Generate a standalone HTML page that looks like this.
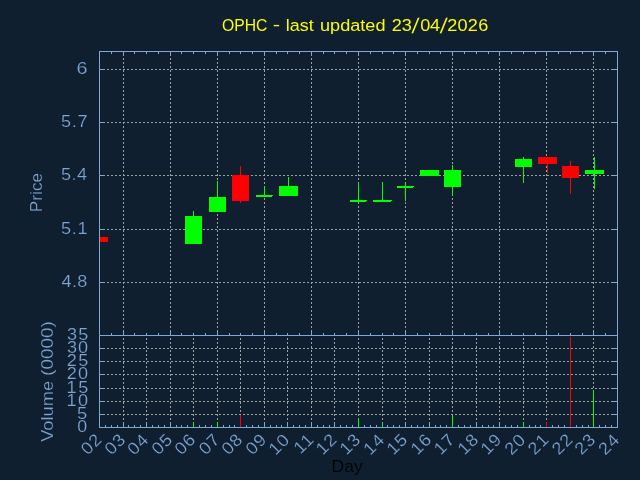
<!DOCTYPE html>
<html>
<head>
<meta charset="utf-8">
<title>OPHC</title>
<style>
html,body{margin:0;padding:0;background:#101f30;}
body{width:640px;height:480px;overflow:hidden;}
svg{display:block;}
text{font-family:"Liberation Sans", sans-serif;}
</style>
</head>
<body>
<svg width="640" height="480" viewBox="0 0 640 480">
<rect x="0" y="0" width="640" height="480" fill="#101f30"/>
<g shape-rendering="crispEdges">
<path d="M99 69h2v1h-2zM103 69h2v1h-2zM107 69h2v1h-2zM111 69h2v1h-2zM115 69h2v1h-2zM119 69h2v1h-2zM123 69h2v1h-2zM127 69h2v1h-2zM131 69h2v1h-2zM135 69h2v1h-2zM139 69h2v1h-2zM143 69h2v1h-2zM147 69h2v1h-2zM151 69h2v1h-2zM155 69h2v1h-2zM159 69h2v1h-2zM163 69h2v1h-2zM167 69h2v1h-2zM171 69h2v1h-2zM175 69h2v1h-2zM179 69h2v1h-2zM183 69h2v1h-2zM187 69h2v1h-2zM191 69h2v1h-2zM195 69h2v1h-2zM199 69h2v1h-2zM203 69h2v1h-2zM207 69h2v1h-2zM211 69h2v1h-2zM215 69h2v1h-2zM219 69h2v1h-2zM223 69h2v1h-2zM227 69h2v1h-2zM231 69h2v1h-2zM235 69h2v1h-2zM239 69h2v1h-2zM243 69h2v1h-2zM247 69h2v1h-2zM251 69h2v1h-2zM255 69h2v1h-2zM259 69h2v1h-2zM263 69h2v1h-2zM267 69h2v1h-2zM271 69h2v1h-2zM275 69h2v1h-2zM279 69h2v1h-2zM283 69h2v1h-2zM287 69h2v1h-2zM291 69h2v1h-2zM295 69h2v1h-2zM299 69h2v1h-2zM303 69h2v1h-2zM307 69h2v1h-2zM311 69h2v1h-2zM315 69h2v1h-2zM319 69h2v1h-2zM323 69h2v1h-2zM327 69h2v1h-2zM331 69h2v1h-2zM335 69h2v1h-2zM339 69h2v1h-2zM343 69h2v1h-2zM347 69h2v1h-2zM351 69h2v1h-2zM355 69h2v1h-2zM359 69h2v1h-2zM363 69h2v1h-2zM367 69h2v1h-2zM371 69h2v1h-2zM375 69h2v1h-2zM379 69h2v1h-2zM383 69h2v1h-2zM387 69h2v1h-2zM391 69h2v1h-2zM395 69h2v1h-2zM399 69h2v1h-2zM403 69h2v1h-2zM407 69h2v1h-2zM411 69h2v1h-2zM415 69h2v1h-2zM419 69h2v1h-2zM423 69h2v1h-2zM427 69h2v1h-2zM431 69h2v1h-2zM435 69h2v1h-2zM439 69h2v1h-2zM443 69h2v1h-2zM447 69h2v1h-2zM451 69h2v1h-2zM455 69h2v1h-2zM459 69h2v1h-2zM463 69h2v1h-2zM467 69h2v1h-2zM471 69h2v1h-2zM475 69h2v1h-2zM479 69h2v1h-2zM483 69h2v1h-2zM487 69h2v1h-2zM491 69h2v1h-2zM495 69h2v1h-2zM499 69h2v1h-2zM503 69h2v1h-2zM507 69h2v1h-2zM511 69h2v1h-2zM515 69h2v1h-2zM519 69h2v1h-2zM523 69h2v1h-2zM527 69h2v1h-2zM531 69h2v1h-2zM535 69h2v1h-2zM539 69h2v1h-2zM543 69h2v1h-2zM547 69h2v1h-2zM551 69h2v1h-2zM555 69h2v1h-2zM559 69h2v1h-2zM563 69h2v1h-2zM567 69h2v1h-2zM571 69h2v1h-2zM575 69h2v1h-2zM579 69h2v1h-2zM583 69h2v1h-2zM587 69h2v1h-2zM591 69h2v1h-2zM595 69h2v1h-2zM599 69h2v1h-2zM603 69h2v1h-2zM607 69h2v1h-2zM611 69h2v1h-2zM615 69h2v1h-2z" fill="#a0a0a0"/>
<path d="M99 122h2v1h-2zM103 122h2v1h-2zM107 122h2v1h-2zM111 122h2v1h-2zM115 122h2v1h-2zM119 122h2v1h-2zM123 122h2v1h-2zM127 122h2v1h-2zM131 122h2v1h-2zM135 122h2v1h-2zM139 122h2v1h-2zM143 122h2v1h-2zM147 122h2v1h-2zM151 122h2v1h-2zM155 122h2v1h-2zM159 122h2v1h-2zM163 122h2v1h-2zM167 122h2v1h-2zM171 122h2v1h-2zM175 122h2v1h-2zM179 122h2v1h-2zM183 122h2v1h-2zM187 122h2v1h-2zM191 122h2v1h-2zM195 122h2v1h-2zM199 122h2v1h-2zM203 122h2v1h-2zM207 122h2v1h-2zM211 122h2v1h-2zM215 122h2v1h-2zM219 122h2v1h-2zM223 122h2v1h-2zM227 122h2v1h-2zM231 122h2v1h-2zM235 122h2v1h-2zM239 122h2v1h-2zM243 122h2v1h-2zM247 122h2v1h-2zM251 122h2v1h-2zM255 122h2v1h-2zM259 122h2v1h-2zM263 122h2v1h-2zM267 122h2v1h-2zM271 122h2v1h-2zM275 122h2v1h-2zM279 122h2v1h-2zM283 122h2v1h-2zM287 122h2v1h-2zM291 122h2v1h-2zM295 122h2v1h-2zM299 122h2v1h-2zM303 122h2v1h-2zM307 122h2v1h-2zM311 122h2v1h-2zM315 122h2v1h-2zM319 122h2v1h-2zM323 122h2v1h-2zM327 122h2v1h-2zM331 122h2v1h-2zM335 122h2v1h-2zM339 122h2v1h-2zM343 122h2v1h-2zM347 122h2v1h-2zM351 122h2v1h-2zM355 122h2v1h-2zM359 122h2v1h-2zM363 122h2v1h-2zM367 122h2v1h-2zM371 122h2v1h-2zM375 122h2v1h-2zM379 122h2v1h-2zM383 122h2v1h-2zM387 122h2v1h-2zM391 122h2v1h-2zM395 122h2v1h-2zM399 122h2v1h-2zM403 122h2v1h-2zM407 122h2v1h-2zM411 122h2v1h-2zM415 122h2v1h-2zM419 122h2v1h-2zM423 122h2v1h-2zM427 122h2v1h-2zM431 122h2v1h-2zM435 122h2v1h-2zM439 122h2v1h-2zM443 122h2v1h-2zM447 122h2v1h-2zM451 122h2v1h-2zM455 122h2v1h-2zM459 122h2v1h-2zM463 122h2v1h-2zM467 122h2v1h-2zM471 122h2v1h-2zM475 122h2v1h-2zM479 122h2v1h-2zM483 122h2v1h-2zM487 122h2v1h-2zM491 122h2v1h-2zM495 122h2v1h-2zM499 122h2v1h-2zM503 122h2v1h-2zM507 122h2v1h-2zM511 122h2v1h-2zM515 122h2v1h-2zM519 122h2v1h-2zM523 122h2v1h-2zM527 122h2v1h-2zM531 122h2v1h-2zM535 122h2v1h-2zM539 122h2v1h-2zM543 122h2v1h-2zM547 122h2v1h-2zM551 122h2v1h-2zM555 122h2v1h-2zM559 122h2v1h-2zM563 122h2v1h-2zM567 122h2v1h-2zM571 122h2v1h-2zM575 122h2v1h-2zM579 122h2v1h-2zM583 122h2v1h-2zM587 122h2v1h-2zM591 122h2v1h-2zM595 122h2v1h-2zM599 122h2v1h-2zM603 122h2v1h-2zM607 122h2v1h-2zM611 122h2v1h-2zM615 122h2v1h-2z" fill="#a0a0a0"/>
<path d="M99 175h2v1h-2zM103 175h2v1h-2zM107 175h2v1h-2zM111 175h2v1h-2zM115 175h2v1h-2zM119 175h2v1h-2zM123 175h2v1h-2zM127 175h2v1h-2zM131 175h2v1h-2zM135 175h2v1h-2zM139 175h2v1h-2zM143 175h2v1h-2zM147 175h2v1h-2zM151 175h2v1h-2zM155 175h2v1h-2zM159 175h2v1h-2zM163 175h2v1h-2zM167 175h2v1h-2zM171 175h2v1h-2zM175 175h2v1h-2zM179 175h2v1h-2zM183 175h2v1h-2zM187 175h2v1h-2zM191 175h2v1h-2zM195 175h2v1h-2zM199 175h2v1h-2zM203 175h2v1h-2zM207 175h2v1h-2zM211 175h2v1h-2zM215 175h2v1h-2zM219 175h2v1h-2zM223 175h2v1h-2zM227 175h2v1h-2zM231 175h2v1h-2zM235 175h2v1h-2zM239 175h2v1h-2zM243 175h2v1h-2zM247 175h2v1h-2zM251 175h2v1h-2zM255 175h2v1h-2zM259 175h2v1h-2zM263 175h2v1h-2zM267 175h2v1h-2zM271 175h2v1h-2zM275 175h2v1h-2zM279 175h2v1h-2zM283 175h2v1h-2zM287 175h2v1h-2zM291 175h2v1h-2zM295 175h2v1h-2zM299 175h2v1h-2zM303 175h2v1h-2zM307 175h2v1h-2zM311 175h2v1h-2zM315 175h2v1h-2zM319 175h2v1h-2zM323 175h2v1h-2zM327 175h2v1h-2zM331 175h2v1h-2zM335 175h2v1h-2zM339 175h2v1h-2zM343 175h2v1h-2zM347 175h2v1h-2zM351 175h2v1h-2zM355 175h2v1h-2zM359 175h2v1h-2zM363 175h2v1h-2zM367 175h2v1h-2zM371 175h2v1h-2zM375 175h2v1h-2zM379 175h2v1h-2zM383 175h2v1h-2zM387 175h2v1h-2zM391 175h2v1h-2zM395 175h2v1h-2zM399 175h2v1h-2zM403 175h2v1h-2zM407 175h2v1h-2zM411 175h2v1h-2zM415 175h2v1h-2zM419 175h2v1h-2zM423 175h2v1h-2zM427 175h2v1h-2zM431 175h2v1h-2zM435 175h2v1h-2zM439 175h2v1h-2zM443 175h2v1h-2zM447 175h2v1h-2zM451 175h2v1h-2zM455 175h2v1h-2zM459 175h2v1h-2zM463 175h2v1h-2zM467 175h2v1h-2zM471 175h2v1h-2zM475 175h2v1h-2zM479 175h2v1h-2zM483 175h2v1h-2zM487 175h2v1h-2zM491 175h2v1h-2zM495 175h2v1h-2zM499 175h2v1h-2zM503 175h2v1h-2zM507 175h2v1h-2zM511 175h2v1h-2zM515 175h2v1h-2zM519 175h2v1h-2zM523 175h2v1h-2zM527 175h2v1h-2zM531 175h2v1h-2zM535 175h2v1h-2zM539 175h2v1h-2zM543 175h2v1h-2zM547 175h2v1h-2zM551 175h2v1h-2zM555 175h2v1h-2zM559 175h2v1h-2zM563 175h2v1h-2zM567 175h2v1h-2zM571 175h2v1h-2zM575 175h2v1h-2zM579 175h2v1h-2zM583 175h2v1h-2zM587 175h2v1h-2zM591 175h2v1h-2zM595 175h2v1h-2zM599 175h2v1h-2zM603 175h2v1h-2zM607 175h2v1h-2zM611 175h2v1h-2zM615 175h2v1h-2z" fill="#a0a0a0"/>
<path d="M99 229h2v1h-2zM103 229h2v1h-2zM107 229h2v1h-2zM111 229h2v1h-2zM115 229h2v1h-2zM119 229h2v1h-2zM123 229h2v1h-2zM127 229h2v1h-2zM131 229h2v1h-2zM135 229h2v1h-2zM139 229h2v1h-2zM143 229h2v1h-2zM147 229h2v1h-2zM151 229h2v1h-2zM155 229h2v1h-2zM159 229h2v1h-2zM163 229h2v1h-2zM167 229h2v1h-2zM171 229h2v1h-2zM175 229h2v1h-2zM179 229h2v1h-2zM183 229h2v1h-2zM187 229h2v1h-2zM191 229h2v1h-2zM195 229h2v1h-2zM199 229h2v1h-2zM203 229h2v1h-2zM207 229h2v1h-2zM211 229h2v1h-2zM215 229h2v1h-2zM219 229h2v1h-2zM223 229h2v1h-2zM227 229h2v1h-2zM231 229h2v1h-2zM235 229h2v1h-2zM239 229h2v1h-2zM243 229h2v1h-2zM247 229h2v1h-2zM251 229h2v1h-2zM255 229h2v1h-2zM259 229h2v1h-2zM263 229h2v1h-2zM267 229h2v1h-2zM271 229h2v1h-2zM275 229h2v1h-2zM279 229h2v1h-2zM283 229h2v1h-2zM287 229h2v1h-2zM291 229h2v1h-2zM295 229h2v1h-2zM299 229h2v1h-2zM303 229h2v1h-2zM307 229h2v1h-2zM311 229h2v1h-2zM315 229h2v1h-2zM319 229h2v1h-2zM323 229h2v1h-2zM327 229h2v1h-2zM331 229h2v1h-2zM335 229h2v1h-2zM339 229h2v1h-2zM343 229h2v1h-2zM347 229h2v1h-2zM351 229h2v1h-2zM355 229h2v1h-2zM359 229h2v1h-2zM363 229h2v1h-2zM367 229h2v1h-2zM371 229h2v1h-2zM375 229h2v1h-2zM379 229h2v1h-2zM383 229h2v1h-2zM387 229h2v1h-2zM391 229h2v1h-2zM395 229h2v1h-2zM399 229h2v1h-2zM403 229h2v1h-2zM407 229h2v1h-2zM411 229h2v1h-2zM415 229h2v1h-2zM419 229h2v1h-2zM423 229h2v1h-2zM427 229h2v1h-2zM431 229h2v1h-2zM435 229h2v1h-2zM439 229h2v1h-2zM443 229h2v1h-2zM447 229h2v1h-2zM451 229h2v1h-2zM455 229h2v1h-2zM459 229h2v1h-2zM463 229h2v1h-2zM467 229h2v1h-2zM471 229h2v1h-2zM475 229h2v1h-2zM479 229h2v1h-2zM483 229h2v1h-2zM487 229h2v1h-2zM491 229h2v1h-2zM495 229h2v1h-2zM499 229h2v1h-2zM503 229h2v1h-2zM507 229h2v1h-2zM511 229h2v1h-2zM515 229h2v1h-2zM519 229h2v1h-2zM523 229h2v1h-2zM527 229h2v1h-2zM531 229h2v1h-2zM535 229h2v1h-2zM539 229h2v1h-2zM543 229h2v1h-2zM547 229h2v1h-2zM551 229h2v1h-2zM555 229h2v1h-2zM559 229h2v1h-2zM563 229h2v1h-2zM567 229h2v1h-2zM571 229h2v1h-2zM575 229h2v1h-2zM579 229h2v1h-2zM583 229h2v1h-2zM587 229h2v1h-2zM591 229h2v1h-2zM595 229h2v1h-2zM599 229h2v1h-2zM603 229h2v1h-2zM607 229h2v1h-2zM611 229h2v1h-2zM615 229h2v1h-2z" fill="#a0a0a0"/>
<path d="M99 282h2v1h-2zM103 282h2v1h-2zM107 282h2v1h-2zM111 282h2v1h-2zM115 282h2v1h-2zM119 282h2v1h-2zM123 282h2v1h-2zM127 282h2v1h-2zM131 282h2v1h-2zM135 282h2v1h-2zM139 282h2v1h-2zM143 282h2v1h-2zM147 282h2v1h-2zM151 282h2v1h-2zM155 282h2v1h-2zM159 282h2v1h-2zM163 282h2v1h-2zM167 282h2v1h-2zM171 282h2v1h-2zM175 282h2v1h-2zM179 282h2v1h-2zM183 282h2v1h-2zM187 282h2v1h-2zM191 282h2v1h-2zM195 282h2v1h-2zM199 282h2v1h-2zM203 282h2v1h-2zM207 282h2v1h-2zM211 282h2v1h-2zM215 282h2v1h-2zM219 282h2v1h-2zM223 282h2v1h-2zM227 282h2v1h-2zM231 282h2v1h-2zM235 282h2v1h-2zM239 282h2v1h-2zM243 282h2v1h-2zM247 282h2v1h-2zM251 282h2v1h-2zM255 282h2v1h-2zM259 282h2v1h-2zM263 282h2v1h-2zM267 282h2v1h-2zM271 282h2v1h-2zM275 282h2v1h-2zM279 282h2v1h-2zM283 282h2v1h-2zM287 282h2v1h-2zM291 282h2v1h-2zM295 282h2v1h-2zM299 282h2v1h-2zM303 282h2v1h-2zM307 282h2v1h-2zM311 282h2v1h-2zM315 282h2v1h-2zM319 282h2v1h-2zM323 282h2v1h-2zM327 282h2v1h-2zM331 282h2v1h-2zM335 282h2v1h-2zM339 282h2v1h-2zM343 282h2v1h-2zM347 282h2v1h-2zM351 282h2v1h-2zM355 282h2v1h-2zM359 282h2v1h-2zM363 282h2v1h-2zM367 282h2v1h-2zM371 282h2v1h-2zM375 282h2v1h-2zM379 282h2v1h-2zM383 282h2v1h-2zM387 282h2v1h-2zM391 282h2v1h-2zM395 282h2v1h-2zM399 282h2v1h-2zM403 282h2v1h-2zM407 282h2v1h-2zM411 282h2v1h-2zM415 282h2v1h-2zM419 282h2v1h-2zM423 282h2v1h-2zM427 282h2v1h-2zM431 282h2v1h-2zM435 282h2v1h-2zM439 282h2v1h-2zM443 282h2v1h-2zM447 282h2v1h-2zM451 282h2v1h-2zM455 282h2v1h-2zM459 282h2v1h-2zM463 282h2v1h-2zM467 282h2v1h-2zM471 282h2v1h-2zM475 282h2v1h-2zM479 282h2v1h-2zM483 282h2v1h-2zM487 282h2v1h-2zM491 282h2v1h-2zM495 282h2v1h-2zM499 282h2v1h-2zM503 282h2v1h-2zM507 282h2v1h-2zM511 282h2v1h-2zM515 282h2v1h-2zM519 282h2v1h-2zM523 282h2v1h-2zM527 282h2v1h-2zM531 282h2v1h-2zM535 282h2v1h-2zM539 282h2v1h-2zM543 282h2v1h-2zM547 282h2v1h-2zM551 282h2v1h-2zM555 282h2v1h-2zM559 282h2v1h-2zM563 282h2v1h-2zM567 282h2v1h-2zM571 282h2v1h-2zM575 282h2v1h-2zM579 282h2v1h-2zM583 282h2v1h-2zM587 282h2v1h-2zM591 282h2v1h-2zM595 282h2v1h-2zM599 282h2v1h-2zM603 282h2v1h-2zM607 282h2v1h-2zM611 282h2v1h-2zM615 282h2v1h-2z" fill="#a0a0a0"/>
<path d="M123 51v1h1v-1zM123 54v2h1v-2zM123 58v2h1v-2zM123 62v2h1v-2zM123 66v2h1v-2zM123 70v2h1v-2zM123 74v2h1v-2zM123 78v2h1v-2zM123 82v2h1v-2zM123 86v2h1v-2zM123 90v2h1v-2zM123 94v2h1v-2zM123 98v2h1v-2zM123 102v2h1v-2zM123 106v2h1v-2zM123 110v2h1v-2zM123 114v2h1v-2zM123 118v2h1v-2zM123 122v2h1v-2zM123 126v2h1v-2zM123 130v2h1v-2zM123 134v2h1v-2zM123 138v2h1v-2zM123 142v2h1v-2zM123 146v2h1v-2zM123 150v2h1v-2zM123 154v2h1v-2zM123 158v2h1v-2zM123 162v2h1v-2zM123 166v2h1v-2zM123 170v2h1v-2zM123 174v2h1v-2zM123 178v2h1v-2zM123 182v2h1v-2zM123 186v2h1v-2zM123 190v2h1v-2zM123 194v2h1v-2zM123 198v2h1v-2zM123 202v2h1v-2zM123 206v2h1v-2zM123 210v2h1v-2zM123 214v2h1v-2zM123 218v2h1v-2zM123 222v2h1v-2zM123 226v2h1v-2zM123 230v2h1v-2zM123 234v2h1v-2zM123 238v2h1v-2zM123 242v2h1v-2zM123 246v2h1v-2zM123 250v2h1v-2zM123 254v2h1v-2zM123 258v2h1v-2zM123 262v2h1v-2zM123 266v2h1v-2zM123 270v2h1v-2zM123 274v2h1v-2zM123 278v2h1v-2zM123 282v2h1v-2zM123 286v2h1v-2zM123 290v2h1v-2zM123 294v2h1v-2zM123 298v2h1v-2zM123 302v2h1v-2zM123 306v2h1v-2zM123 310v2h1v-2zM123 314v2h1v-2zM123 318v2h1v-2zM123 322v2h1v-2zM123 326v2h1v-2zM123 330v2h1v-2zM123 334v2h1v-2z" fill="#a0a0a0"/>
<path d="M170 51v1h1v-1zM170 54v2h1v-2zM170 58v2h1v-2zM170 62v2h1v-2zM170 66v2h1v-2zM170 70v2h1v-2zM170 74v2h1v-2zM170 78v2h1v-2zM170 82v2h1v-2zM170 86v2h1v-2zM170 90v2h1v-2zM170 94v2h1v-2zM170 98v2h1v-2zM170 102v2h1v-2zM170 106v2h1v-2zM170 110v2h1v-2zM170 114v2h1v-2zM170 118v2h1v-2zM170 122v2h1v-2zM170 126v2h1v-2zM170 130v2h1v-2zM170 134v2h1v-2zM170 138v2h1v-2zM170 142v2h1v-2zM170 146v2h1v-2zM170 150v2h1v-2zM170 154v2h1v-2zM170 158v2h1v-2zM170 162v2h1v-2zM170 166v2h1v-2zM170 170v2h1v-2zM170 174v2h1v-2zM170 178v2h1v-2zM170 182v2h1v-2zM170 186v2h1v-2zM170 190v2h1v-2zM170 194v2h1v-2zM170 198v2h1v-2zM170 202v2h1v-2zM170 206v2h1v-2zM170 210v2h1v-2zM170 214v2h1v-2zM170 218v2h1v-2zM170 222v2h1v-2zM170 226v2h1v-2zM170 230v2h1v-2zM170 234v2h1v-2zM170 238v2h1v-2zM170 242v2h1v-2zM170 246v2h1v-2zM170 250v2h1v-2zM170 254v2h1v-2zM170 258v2h1v-2zM170 262v2h1v-2zM170 266v2h1v-2zM170 270v2h1v-2zM170 274v2h1v-2zM170 278v2h1v-2zM170 282v2h1v-2zM170 286v2h1v-2zM170 290v2h1v-2zM170 294v2h1v-2zM170 298v2h1v-2zM170 302v2h1v-2zM170 306v2h1v-2zM170 310v2h1v-2zM170 314v2h1v-2zM170 318v2h1v-2zM170 322v2h1v-2zM170 326v2h1v-2zM170 330v2h1v-2zM170 334v2h1v-2z" fill="#a0a0a0"/>
<path d="M217 51v1h1v-1zM217 54v2h1v-2zM217 58v2h1v-2zM217 62v2h1v-2zM217 66v2h1v-2zM217 70v2h1v-2zM217 74v2h1v-2zM217 78v2h1v-2zM217 82v2h1v-2zM217 86v2h1v-2zM217 90v2h1v-2zM217 94v2h1v-2zM217 98v2h1v-2zM217 102v2h1v-2zM217 106v2h1v-2zM217 110v2h1v-2zM217 114v2h1v-2zM217 118v2h1v-2zM217 122v2h1v-2zM217 126v2h1v-2zM217 130v2h1v-2zM217 134v2h1v-2zM217 138v2h1v-2zM217 142v2h1v-2zM217 146v2h1v-2zM217 150v2h1v-2zM217 154v2h1v-2zM217 158v2h1v-2zM217 162v2h1v-2zM217 166v2h1v-2zM217 170v2h1v-2zM217 174v2h1v-2zM217 178v2h1v-2zM217 182v2h1v-2zM217 186v2h1v-2zM217 190v2h1v-2zM217 194v2h1v-2zM217 198v2h1v-2zM217 202v2h1v-2zM217 206v2h1v-2zM217 210v2h1v-2zM217 214v2h1v-2zM217 218v2h1v-2zM217 222v2h1v-2zM217 226v2h1v-2zM217 230v2h1v-2zM217 234v2h1v-2zM217 238v2h1v-2zM217 242v2h1v-2zM217 246v2h1v-2zM217 250v2h1v-2zM217 254v2h1v-2zM217 258v2h1v-2zM217 262v2h1v-2zM217 266v2h1v-2zM217 270v2h1v-2zM217 274v2h1v-2zM217 278v2h1v-2zM217 282v2h1v-2zM217 286v2h1v-2zM217 290v2h1v-2zM217 294v2h1v-2zM217 298v2h1v-2zM217 302v2h1v-2zM217 306v2h1v-2zM217 310v2h1v-2zM217 314v2h1v-2zM217 318v2h1v-2zM217 322v2h1v-2zM217 326v2h1v-2zM217 330v2h1v-2zM217 334v2h1v-2z" fill="#a0a0a0"/>
<path d="M264 51v1h1v-1zM264 54v2h1v-2zM264 58v2h1v-2zM264 62v2h1v-2zM264 66v2h1v-2zM264 70v2h1v-2zM264 74v2h1v-2zM264 78v2h1v-2zM264 82v2h1v-2zM264 86v2h1v-2zM264 90v2h1v-2zM264 94v2h1v-2zM264 98v2h1v-2zM264 102v2h1v-2zM264 106v2h1v-2zM264 110v2h1v-2zM264 114v2h1v-2zM264 118v2h1v-2zM264 122v2h1v-2zM264 126v2h1v-2zM264 130v2h1v-2zM264 134v2h1v-2zM264 138v2h1v-2zM264 142v2h1v-2zM264 146v2h1v-2zM264 150v2h1v-2zM264 154v2h1v-2zM264 158v2h1v-2zM264 162v2h1v-2zM264 166v2h1v-2zM264 170v2h1v-2zM264 174v2h1v-2zM264 178v2h1v-2zM264 182v2h1v-2zM264 186v2h1v-2zM264 190v2h1v-2zM264 194v2h1v-2zM264 198v2h1v-2zM264 202v2h1v-2zM264 206v2h1v-2zM264 210v2h1v-2zM264 214v2h1v-2zM264 218v2h1v-2zM264 222v2h1v-2zM264 226v2h1v-2zM264 230v2h1v-2zM264 234v2h1v-2zM264 238v2h1v-2zM264 242v2h1v-2zM264 246v2h1v-2zM264 250v2h1v-2zM264 254v2h1v-2zM264 258v2h1v-2zM264 262v2h1v-2zM264 266v2h1v-2zM264 270v2h1v-2zM264 274v2h1v-2zM264 278v2h1v-2zM264 282v2h1v-2zM264 286v2h1v-2zM264 290v2h1v-2zM264 294v2h1v-2zM264 298v2h1v-2zM264 302v2h1v-2zM264 306v2h1v-2zM264 310v2h1v-2zM264 314v2h1v-2zM264 318v2h1v-2zM264 322v2h1v-2zM264 326v2h1v-2zM264 330v2h1v-2zM264 334v2h1v-2z" fill="#a0a0a0"/>
<path d="M311 51v1h1v-1zM311 54v2h1v-2zM311 58v2h1v-2zM311 62v2h1v-2zM311 66v2h1v-2zM311 70v2h1v-2zM311 74v2h1v-2zM311 78v2h1v-2zM311 82v2h1v-2zM311 86v2h1v-2zM311 90v2h1v-2zM311 94v2h1v-2zM311 98v2h1v-2zM311 102v2h1v-2zM311 106v2h1v-2zM311 110v2h1v-2zM311 114v2h1v-2zM311 118v2h1v-2zM311 122v2h1v-2zM311 126v2h1v-2zM311 130v2h1v-2zM311 134v2h1v-2zM311 138v2h1v-2zM311 142v2h1v-2zM311 146v2h1v-2zM311 150v2h1v-2zM311 154v2h1v-2zM311 158v2h1v-2zM311 162v2h1v-2zM311 166v2h1v-2zM311 170v2h1v-2zM311 174v2h1v-2zM311 178v2h1v-2zM311 182v2h1v-2zM311 186v2h1v-2zM311 190v2h1v-2zM311 194v2h1v-2zM311 198v2h1v-2zM311 202v2h1v-2zM311 206v2h1v-2zM311 210v2h1v-2zM311 214v2h1v-2zM311 218v2h1v-2zM311 222v2h1v-2zM311 226v2h1v-2zM311 230v2h1v-2zM311 234v2h1v-2zM311 238v2h1v-2zM311 242v2h1v-2zM311 246v2h1v-2zM311 250v2h1v-2zM311 254v2h1v-2zM311 258v2h1v-2zM311 262v2h1v-2zM311 266v2h1v-2zM311 270v2h1v-2zM311 274v2h1v-2zM311 278v2h1v-2zM311 282v2h1v-2zM311 286v2h1v-2zM311 290v2h1v-2zM311 294v2h1v-2zM311 298v2h1v-2zM311 302v2h1v-2zM311 306v2h1v-2zM311 310v2h1v-2zM311 314v2h1v-2zM311 318v2h1v-2zM311 322v2h1v-2zM311 326v2h1v-2zM311 330v2h1v-2zM311 334v2h1v-2z" fill="#a0a0a0"/>
<path d="M358 51v1h1v-1zM358 54v2h1v-2zM358 58v2h1v-2zM358 62v2h1v-2zM358 66v2h1v-2zM358 70v2h1v-2zM358 74v2h1v-2zM358 78v2h1v-2zM358 82v2h1v-2zM358 86v2h1v-2zM358 90v2h1v-2zM358 94v2h1v-2zM358 98v2h1v-2zM358 102v2h1v-2zM358 106v2h1v-2zM358 110v2h1v-2zM358 114v2h1v-2zM358 118v2h1v-2zM358 122v2h1v-2zM358 126v2h1v-2zM358 130v2h1v-2zM358 134v2h1v-2zM358 138v2h1v-2zM358 142v2h1v-2zM358 146v2h1v-2zM358 150v2h1v-2zM358 154v2h1v-2zM358 158v2h1v-2zM358 162v2h1v-2zM358 166v2h1v-2zM358 170v2h1v-2zM358 174v2h1v-2zM358 178v2h1v-2zM358 182v2h1v-2zM358 186v2h1v-2zM358 190v2h1v-2zM358 194v2h1v-2zM358 198v2h1v-2zM358 202v2h1v-2zM358 206v2h1v-2zM358 210v2h1v-2zM358 214v2h1v-2zM358 218v2h1v-2zM358 222v2h1v-2zM358 226v2h1v-2zM358 230v2h1v-2zM358 234v2h1v-2zM358 238v2h1v-2zM358 242v2h1v-2zM358 246v2h1v-2zM358 250v2h1v-2zM358 254v2h1v-2zM358 258v2h1v-2zM358 262v2h1v-2zM358 266v2h1v-2zM358 270v2h1v-2zM358 274v2h1v-2zM358 278v2h1v-2zM358 282v2h1v-2zM358 286v2h1v-2zM358 290v2h1v-2zM358 294v2h1v-2zM358 298v2h1v-2zM358 302v2h1v-2zM358 306v2h1v-2zM358 310v2h1v-2zM358 314v2h1v-2zM358 318v2h1v-2zM358 322v2h1v-2zM358 326v2h1v-2zM358 330v2h1v-2zM358 334v2h1v-2z" fill="#a0a0a0"/>
<path d="M405 51v1h1v-1zM405 54v2h1v-2zM405 58v2h1v-2zM405 62v2h1v-2zM405 66v2h1v-2zM405 70v2h1v-2zM405 74v2h1v-2zM405 78v2h1v-2zM405 82v2h1v-2zM405 86v2h1v-2zM405 90v2h1v-2zM405 94v2h1v-2zM405 98v2h1v-2zM405 102v2h1v-2zM405 106v2h1v-2zM405 110v2h1v-2zM405 114v2h1v-2zM405 118v2h1v-2zM405 122v2h1v-2zM405 126v2h1v-2zM405 130v2h1v-2zM405 134v2h1v-2zM405 138v2h1v-2zM405 142v2h1v-2zM405 146v2h1v-2zM405 150v2h1v-2zM405 154v2h1v-2zM405 158v2h1v-2zM405 162v2h1v-2zM405 166v2h1v-2zM405 170v2h1v-2zM405 174v2h1v-2zM405 178v2h1v-2zM405 182v2h1v-2zM405 186v2h1v-2zM405 190v2h1v-2zM405 194v2h1v-2zM405 198v2h1v-2zM405 202v2h1v-2zM405 206v2h1v-2zM405 210v2h1v-2zM405 214v2h1v-2zM405 218v2h1v-2zM405 222v2h1v-2zM405 226v2h1v-2zM405 230v2h1v-2zM405 234v2h1v-2zM405 238v2h1v-2zM405 242v2h1v-2zM405 246v2h1v-2zM405 250v2h1v-2zM405 254v2h1v-2zM405 258v2h1v-2zM405 262v2h1v-2zM405 266v2h1v-2zM405 270v2h1v-2zM405 274v2h1v-2zM405 278v2h1v-2zM405 282v2h1v-2zM405 286v2h1v-2zM405 290v2h1v-2zM405 294v2h1v-2zM405 298v2h1v-2zM405 302v2h1v-2zM405 306v2h1v-2zM405 310v2h1v-2zM405 314v2h1v-2zM405 318v2h1v-2zM405 322v2h1v-2zM405 326v2h1v-2zM405 330v2h1v-2zM405 334v2h1v-2z" fill="#a0a0a0"/>
<path d="M452 51v1h1v-1zM452 54v2h1v-2zM452 58v2h1v-2zM452 62v2h1v-2zM452 66v2h1v-2zM452 70v2h1v-2zM452 74v2h1v-2zM452 78v2h1v-2zM452 82v2h1v-2zM452 86v2h1v-2zM452 90v2h1v-2zM452 94v2h1v-2zM452 98v2h1v-2zM452 102v2h1v-2zM452 106v2h1v-2zM452 110v2h1v-2zM452 114v2h1v-2zM452 118v2h1v-2zM452 122v2h1v-2zM452 126v2h1v-2zM452 130v2h1v-2zM452 134v2h1v-2zM452 138v2h1v-2zM452 142v2h1v-2zM452 146v2h1v-2zM452 150v2h1v-2zM452 154v2h1v-2zM452 158v2h1v-2zM452 162v2h1v-2zM452 166v2h1v-2zM452 170v2h1v-2zM452 174v2h1v-2zM452 178v2h1v-2zM452 182v2h1v-2zM452 186v2h1v-2zM452 190v2h1v-2zM452 194v2h1v-2zM452 198v2h1v-2zM452 202v2h1v-2zM452 206v2h1v-2zM452 210v2h1v-2zM452 214v2h1v-2zM452 218v2h1v-2zM452 222v2h1v-2zM452 226v2h1v-2zM452 230v2h1v-2zM452 234v2h1v-2zM452 238v2h1v-2zM452 242v2h1v-2zM452 246v2h1v-2zM452 250v2h1v-2zM452 254v2h1v-2zM452 258v2h1v-2zM452 262v2h1v-2zM452 266v2h1v-2zM452 270v2h1v-2zM452 274v2h1v-2zM452 278v2h1v-2zM452 282v2h1v-2zM452 286v2h1v-2zM452 290v2h1v-2zM452 294v2h1v-2zM452 298v2h1v-2zM452 302v2h1v-2zM452 306v2h1v-2zM452 310v2h1v-2zM452 314v2h1v-2zM452 318v2h1v-2zM452 322v2h1v-2zM452 326v2h1v-2zM452 330v2h1v-2zM452 334v2h1v-2z" fill="#a0a0a0"/>
<path d="M499 51v1h1v-1zM499 54v2h1v-2zM499 58v2h1v-2zM499 62v2h1v-2zM499 66v2h1v-2zM499 70v2h1v-2zM499 74v2h1v-2zM499 78v2h1v-2zM499 82v2h1v-2zM499 86v2h1v-2zM499 90v2h1v-2zM499 94v2h1v-2zM499 98v2h1v-2zM499 102v2h1v-2zM499 106v2h1v-2zM499 110v2h1v-2zM499 114v2h1v-2zM499 118v2h1v-2zM499 122v2h1v-2zM499 126v2h1v-2zM499 130v2h1v-2zM499 134v2h1v-2zM499 138v2h1v-2zM499 142v2h1v-2zM499 146v2h1v-2zM499 150v2h1v-2zM499 154v2h1v-2zM499 158v2h1v-2zM499 162v2h1v-2zM499 166v2h1v-2zM499 170v2h1v-2zM499 174v2h1v-2zM499 178v2h1v-2zM499 182v2h1v-2zM499 186v2h1v-2zM499 190v2h1v-2zM499 194v2h1v-2zM499 198v2h1v-2zM499 202v2h1v-2zM499 206v2h1v-2zM499 210v2h1v-2zM499 214v2h1v-2zM499 218v2h1v-2zM499 222v2h1v-2zM499 226v2h1v-2zM499 230v2h1v-2zM499 234v2h1v-2zM499 238v2h1v-2zM499 242v2h1v-2zM499 246v2h1v-2zM499 250v2h1v-2zM499 254v2h1v-2zM499 258v2h1v-2zM499 262v2h1v-2zM499 266v2h1v-2zM499 270v2h1v-2zM499 274v2h1v-2zM499 278v2h1v-2zM499 282v2h1v-2zM499 286v2h1v-2zM499 290v2h1v-2zM499 294v2h1v-2zM499 298v2h1v-2zM499 302v2h1v-2zM499 306v2h1v-2zM499 310v2h1v-2zM499 314v2h1v-2zM499 318v2h1v-2zM499 322v2h1v-2zM499 326v2h1v-2zM499 330v2h1v-2zM499 334v2h1v-2z" fill="#a0a0a0"/>
<path d="M546 51v1h1v-1zM546 54v2h1v-2zM546 58v2h1v-2zM546 62v2h1v-2zM546 66v2h1v-2zM546 70v2h1v-2zM546 74v2h1v-2zM546 78v2h1v-2zM546 82v2h1v-2zM546 86v2h1v-2zM546 90v2h1v-2zM546 94v2h1v-2zM546 98v2h1v-2zM546 102v2h1v-2zM546 106v2h1v-2zM546 110v2h1v-2zM546 114v2h1v-2zM546 118v2h1v-2zM546 122v2h1v-2zM546 126v2h1v-2zM546 130v2h1v-2zM546 134v2h1v-2zM546 138v2h1v-2zM546 142v2h1v-2zM546 146v2h1v-2zM546 150v2h1v-2zM546 154v2h1v-2zM546 158v2h1v-2zM546 162v2h1v-2zM546 166v2h1v-2zM546 170v2h1v-2zM546 174v2h1v-2zM546 178v2h1v-2zM546 182v2h1v-2zM546 186v2h1v-2zM546 190v2h1v-2zM546 194v2h1v-2zM546 198v2h1v-2zM546 202v2h1v-2zM546 206v2h1v-2zM546 210v2h1v-2zM546 214v2h1v-2zM546 218v2h1v-2zM546 222v2h1v-2zM546 226v2h1v-2zM546 230v2h1v-2zM546 234v2h1v-2zM546 238v2h1v-2zM546 242v2h1v-2zM546 246v2h1v-2zM546 250v2h1v-2zM546 254v2h1v-2zM546 258v2h1v-2zM546 262v2h1v-2zM546 266v2h1v-2zM546 270v2h1v-2zM546 274v2h1v-2zM546 278v2h1v-2zM546 282v2h1v-2zM546 286v2h1v-2zM546 290v2h1v-2zM546 294v2h1v-2zM546 298v2h1v-2zM546 302v2h1v-2zM546 306v2h1v-2zM546 310v2h1v-2zM546 314v2h1v-2zM546 318v2h1v-2zM546 322v2h1v-2zM546 326v2h1v-2zM546 330v2h1v-2zM546 334v2h1v-2z" fill="#a0a0a0"/>
<path d="M593 51v1h1v-1zM593 54v2h1v-2zM593 58v2h1v-2zM593 62v2h1v-2zM593 66v2h1v-2zM593 70v2h1v-2zM593 74v2h1v-2zM593 78v2h1v-2zM593 82v2h1v-2zM593 86v2h1v-2zM593 90v2h1v-2zM593 94v2h1v-2zM593 98v2h1v-2zM593 102v2h1v-2zM593 106v2h1v-2zM593 110v2h1v-2zM593 114v2h1v-2zM593 118v2h1v-2zM593 122v2h1v-2zM593 126v2h1v-2zM593 130v2h1v-2zM593 134v2h1v-2zM593 138v2h1v-2zM593 142v2h1v-2zM593 146v2h1v-2zM593 150v2h1v-2zM593 154v2h1v-2zM593 158v2h1v-2zM593 162v2h1v-2zM593 166v2h1v-2zM593 170v2h1v-2zM593 174v2h1v-2zM593 178v2h1v-2zM593 182v2h1v-2zM593 186v2h1v-2zM593 190v2h1v-2zM593 194v2h1v-2zM593 198v2h1v-2zM593 202v2h1v-2zM593 206v2h1v-2zM593 210v2h1v-2zM593 214v2h1v-2zM593 218v2h1v-2zM593 222v2h1v-2zM593 226v2h1v-2zM593 230v2h1v-2zM593 234v2h1v-2zM593 238v2h1v-2zM593 242v2h1v-2zM593 246v2h1v-2zM593 250v2h1v-2zM593 254v2h1v-2zM593 258v2h1v-2zM593 262v2h1v-2zM593 266v2h1v-2zM593 270v2h1v-2zM593 274v2h1v-2zM593 278v2h1v-2zM593 282v2h1v-2zM593 286v2h1v-2zM593 290v2h1v-2zM593 294v2h1v-2zM593 298v2h1v-2zM593 302v2h1v-2zM593 306v2h1v-2zM593 310v2h1v-2zM593 314v2h1v-2zM593 318v2h1v-2zM593 322v2h1v-2zM593 326v2h1v-2zM593 330v2h1v-2zM593 334v2h1v-2z" fill="#a0a0a0"/>
<path d="M99 348h2v1h-2zM103 348h2v1h-2zM107 348h2v1h-2zM111 348h2v1h-2zM115 348h2v1h-2zM119 348h2v1h-2zM123 348h2v1h-2zM127 348h2v1h-2zM131 348h2v1h-2zM135 348h2v1h-2zM139 348h2v1h-2zM143 348h2v1h-2zM147 348h2v1h-2zM151 348h2v1h-2zM155 348h2v1h-2zM159 348h2v1h-2zM163 348h2v1h-2zM167 348h2v1h-2zM171 348h2v1h-2zM175 348h2v1h-2zM179 348h2v1h-2zM183 348h2v1h-2zM187 348h2v1h-2zM191 348h2v1h-2zM195 348h2v1h-2zM199 348h2v1h-2zM203 348h2v1h-2zM207 348h2v1h-2zM211 348h2v1h-2zM215 348h2v1h-2zM219 348h2v1h-2zM223 348h2v1h-2zM227 348h2v1h-2zM231 348h2v1h-2zM235 348h2v1h-2zM239 348h2v1h-2zM243 348h2v1h-2zM247 348h2v1h-2zM251 348h2v1h-2zM255 348h2v1h-2zM259 348h2v1h-2zM263 348h2v1h-2zM267 348h2v1h-2zM271 348h2v1h-2zM275 348h2v1h-2zM279 348h2v1h-2zM283 348h2v1h-2zM287 348h2v1h-2zM291 348h2v1h-2zM295 348h2v1h-2zM299 348h2v1h-2zM303 348h2v1h-2zM307 348h2v1h-2zM311 348h2v1h-2zM315 348h2v1h-2zM319 348h2v1h-2zM323 348h2v1h-2zM327 348h2v1h-2zM331 348h2v1h-2zM335 348h2v1h-2zM339 348h2v1h-2zM343 348h2v1h-2zM347 348h2v1h-2zM351 348h2v1h-2zM355 348h2v1h-2zM359 348h2v1h-2zM363 348h2v1h-2zM367 348h2v1h-2zM371 348h2v1h-2zM375 348h2v1h-2zM379 348h2v1h-2zM383 348h2v1h-2zM387 348h2v1h-2zM391 348h2v1h-2zM395 348h2v1h-2zM399 348h2v1h-2zM403 348h2v1h-2zM407 348h2v1h-2zM411 348h2v1h-2zM415 348h2v1h-2zM419 348h2v1h-2zM423 348h2v1h-2zM427 348h2v1h-2zM431 348h2v1h-2zM435 348h2v1h-2zM439 348h2v1h-2zM443 348h2v1h-2zM447 348h2v1h-2zM451 348h2v1h-2zM455 348h2v1h-2zM459 348h2v1h-2zM463 348h2v1h-2zM467 348h2v1h-2zM471 348h2v1h-2zM475 348h2v1h-2zM479 348h2v1h-2zM483 348h2v1h-2zM487 348h2v1h-2zM491 348h2v1h-2zM495 348h2v1h-2zM499 348h2v1h-2zM503 348h2v1h-2zM507 348h2v1h-2zM511 348h2v1h-2zM515 348h2v1h-2zM519 348h2v1h-2zM523 348h2v1h-2zM527 348h2v1h-2zM531 348h2v1h-2zM535 348h2v1h-2zM539 348h2v1h-2zM543 348h2v1h-2zM547 348h2v1h-2zM551 348h2v1h-2zM555 348h2v1h-2zM559 348h2v1h-2zM563 348h2v1h-2zM567 348h2v1h-2zM571 348h2v1h-2zM575 348h2v1h-2zM579 348h2v1h-2zM583 348h2v1h-2zM587 348h2v1h-2zM591 348h2v1h-2zM595 348h2v1h-2zM599 348h2v1h-2zM603 348h2v1h-2zM607 348h2v1h-2zM611 348h2v1h-2zM615 348h2v1h-2z" fill="#a0a0a0"/>
<path d="M99 361h2v1h-2zM103 361h2v1h-2zM107 361h2v1h-2zM111 361h2v1h-2zM115 361h2v1h-2zM119 361h2v1h-2zM123 361h2v1h-2zM127 361h2v1h-2zM131 361h2v1h-2zM135 361h2v1h-2zM139 361h2v1h-2zM143 361h2v1h-2zM147 361h2v1h-2zM151 361h2v1h-2zM155 361h2v1h-2zM159 361h2v1h-2zM163 361h2v1h-2zM167 361h2v1h-2zM171 361h2v1h-2zM175 361h2v1h-2zM179 361h2v1h-2zM183 361h2v1h-2zM187 361h2v1h-2zM191 361h2v1h-2zM195 361h2v1h-2zM199 361h2v1h-2zM203 361h2v1h-2zM207 361h2v1h-2zM211 361h2v1h-2zM215 361h2v1h-2zM219 361h2v1h-2zM223 361h2v1h-2zM227 361h2v1h-2zM231 361h2v1h-2zM235 361h2v1h-2zM239 361h2v1h-2zM243 361h2v1h-2zM247 361h2v1h-2zM251 361h2v1h-2zM255 361h2v1h-2zM259 361h2v1h-2zM263 361h2v1h-2zM267 361h2v1h-2zM271 361h2v1h-2zM275 361h2v1h-2zM279 361h2v1h-2zM283 361h2v1h-2zM287 361h2v1h-2zM291 361h2v1h-2zM295 361h2v1h-2zM299 361h2v1h-2zM303 361h2v1h-2zM307 361h2v1h-2zM311 361h2v1h-2zM315 361h2v1h-2zM319 361h2v1h-2zM323 361h2v1h-2zM327 361h2v1h-2zM331 361h2v1h-2zM335 361h2v1h-2zM339 361h2v1h-2zM343 361h2v1h-2zM347 361h2v1h-2zM351 361h2v1h-2zM355 361h2v1h-2zM359 361h2v1h-2zM363 361h2v1h-2zM367 361h2v1h-2zM371 361h2v1h-2zM375 361h2v1h-2zM379 361h2v1h-2zM383 361h2v1h-2zM387 361h2v1h-2zM391 361h2v1h-2zM395 361h2v1h-2zM399 361h2v1h-2zM403 361h2v1h-2zM407 361h2v1h-2zM411 361h2v1h-2zM415 361h2v1h-2zM419 361h2v1h-2zM423 361h2v1h-2zM427 361h2v1h-2zM431 361h2v1h-2zM435 361h2v1h-2zM439 361h2v1h-2zM443 361h2v1h-2zM447 361h2v1h-2zM451 361h2v1h-2zM455 361h2v1h-2zM459 361h2v1h-2zM463 361h2v1h-2zM467 361h2v1h-2zM471 361h2v1h-2zM475 361h2v1h-2zM479 361h2v1h-2zM483 361h2v1h-2zM487 361h2v1h-2zM491 361h2v1h-2zM495 361h2v1h-2zM499 361h2v1h-2zM503 361h2v1h-2zM507 361h2v1h-2zM511 361h2v1h-2zM515 361h2v1h-2zM519 361h2v1h-2zM523 361h2v1h-2zM527 361h2v1h-2zM531 361h2v1h-2zM535 361h2v1h-2zM539 361h2v1h-2zM543 361h2v1h-2zM547 361h2v1h-2zM551 361h2v1h-2zM555 361h2v1h-2zM559 361h2v1h-2zM563 361h2v1h-2zM567 361h2v1h-2zM571 361h2v1h-2zM575 361h2v1h-2zM579 361h2v1h-2zM583 361h2v1h-2zM587 361h2v1h-2zM591 361h2v1h-2zM595 361h2v1h-2zM599 361h2v1h-2zM603 361h2v1h-2zM607 361h2v1h-2zM611 361h2v1h-2zM615 361h2v1h-2z" fill="#a0a0a0"/>
<path d="M99 374h2v1h-2zM103 374h2v1h-2zM107 374h2v1h-2zM111 374h2v1h-2zM115 374h2v1h-2zM119 374h2v1h-2zM123 374h2v1h-2zM127 374h2v1h-2zM131 374h2v1h-2zM135 374h2v1h-2zM139 374h2v1h-2zM143 374h2v1h-2zM147 374h2v1h-2zM151 374h2v1h-2zM155 374h2v1h-2zM159 374h2v1h-2zM163 374h2v1h-2zM167 374h2v1h-2zM171 374h2v1h-2zM175 374h2v1h-2zM179 374h2v1h-2zM183 374h2v1h-2zM187 374h2v1h-2zM191 374h2v1h-2zM195 374h2v1h-2zM199 374h2v1h-2zM203 374h2v1h-2zM207 374h2v1h-2zM211 374h2v1h-2zM215 374h2v1h-2zM219 374h2v1h-2zM223 374h2v1h-2zM227 374h2v1h-2zM231 374h2v1h-2zM235 374h2v1h-2zM239 374h2v1h-2zM243 374h2v1h-2zM247 374h2v1h-2zM251 374h2v1h-2zM255 374h2v1h-2zM259 374h2v1h-2zM263 374h2v1h-2zM267 374h2v1h-2zM271 374h2v1h-2zM275 374h2v1h-2zM279 374h2v1h-2zM283 374h2v1h-2zM287 374h2v1h-2zM291 374h2v1h-2zM295 374h2v1h-2zM299 374h2v1h-2zM303 374h2v1h-2zM307 374h2v1h-2zM311 374h2v1h-2zM315 374h2v1h-2zM319 374h2v1h-2zM323 374h2v1h-2zM327 374h2v1h-2zM331 374h2v1h-2zM335 374h2v1h-2zM339 374h2v1h-2zM343 374h2v1h-2zM347 374h2v1h-2zM351 374h2v1h-2zM355 374h2v1h-2zM359 374h2v1h-2zM363 374h2v1h-2zM367 374h2v1h-2zM371 374h2v1h-2zM375 374h2v1h-2zM379 374h2v1h-2zM383 374h2v1h-2zM387 374h2v1h-2zM391 374h2v1h-2zM395 374h2v1h-2zM399 374h2v1h-2zM403 374h2v1h-2zM407 374h2v1h-2zM411 374h2v1h-2zM415 374h2v1h-2zM419 374h2v1h-2zM423 374h2v1h-2zM427 374h2v1h-2zM431 374h2v1h-2zM435 374h2v1h-2zM439 374h2v1h-2zM443 374h2v1h-2zM447 374h2v1h-2zM451 374h2v1h-2zM455 374h2v1h-2zM459 374h2v1h-2zM463 374h2v1h-2zM467 374h2v1h-2zM471 374h2v1h-2zM475 374h2v1h-2zM479 374h2v1h-2zM483 374h2v1h-2zM487 374h2v1h-2zM491 374h2v1h-2zM495 374h2v1h-2zM499 374h2v1h-2zM503 374h2v1h-2zM507 374h2v1h-2zM511 374h2v1h-2zM515 374h2v1h-2zM519 374h2v1h-2zM523 374h2v1h-2zM527 374h2v1h-2zM531 374h2v1h-2zM535 374h2v1h-2zM539 374h2v1h-2zM543 374h2v1h-2zM547 374h2v1h-2zM551 374h2v1h-2zM555 374h2v1h-2zM559 374h2v1h-2zM563 374h2v1h-2zM567 374h2v1h-2zM571 374h2v1h-2zM575 374h2v1h-2zM579 374h2v1h-2zM583 374h2v1h-2zM587 374h2v1h-2zM591 374h2v1h-2zM595 374h2v1h-2zM599 374h2v1h-2zM603 374h2v1h-2zM607 374h2v1h-2zM611 374h2v1h-2zM615 374h2v1h-2z" fill="#a0a0a0"/>
<path d="M99 388h2v1h-2zM103 388h2v1h-2zM107 388h2v1h-2zM111 388h2v1h-2zM115 388h2v1h-2zM119 388h2v1h-2zM123 388h2v1h-2zM127 388h2v1h-2zM131 388h2v1h-2zM135 388h2v1h-2zM139 388h2v1h-2zM143 388h2v1h-2zM147 388h2v1h-2zM151 388h2v1h-2zM155 388h2v1h-2zM159 388h2v1h-2zM163 388h2v1h-2zM167 388h2v1h-2zM171 388h2v1h-2zM175 388h2v1h-2zM179 388h2v1h-2zM183 388h2v1h-2zM187 388h2v1h-2zM191 388h2v1h-2zM195 388h2v1h-2zM199 388h2v1h-2zM203 388h2v1h-2zM207 388h2v1h-2zM211 388h2v1h-2zM215 388h2v1h-2zM219 388h2v1h-2zM223 388h2v1h-2zM227 388h2v1h-2zM231 388h2v1h-2zM235 388h2v1h-2zM239 388h2v1h-2zM243 388h2v1h-2zM247 388h2v1h-2zM251 388h2v1h-2zM255 388h2v1h-2zM259 388h2v1h-2zM263 388h2v1h-2zM267 388h2v1h-2zM271 388h2v1h-2zM275 388h2v1h-2zM279 388h2v1h-2zM283 388h2v1h-2zM287 388h2v1h-2zM291 388h2v1h-2zM295 388h2v1h-2zM299 388h2v1h-2zM303 388h2v1h-2zM307 388h2v1h-2zM311 388h2v1h-2zM315 388h2v1h-2zM319 388h2v1h-2zM323 388h2v1h-2zM327 388h2v1h-2zM331 388h2v1h-2zM335 388h2v1h-2zM339 388h2v1h-2zM343 388h2v1h-2zM347 388h2v1h-2zM351 388h2v1h-2zM355 388h2v1h-2zM359 388h2v1h-2zM363 388h2v1h-2zM367 388h2v1h-2zM371 388h2v1h-2zM375 388h2v1h-2zM379 388h2v1h-2zM383 388h2v1h-2zM387 388h2v1h-2zM391 388h2v1h-2zM395 388h2v1h-2zM399 388h2v1h-2zM403 388h2v1h-2zM407 388h2v1h-2zM411 388h2v1h-2zM415 388h2v1h-2zM419 388h2v1h-2zM423 388h2v1h-2zM427 388h2v1h-2zM431 388h2v1h-2zM435 388h2v1h-2zM439 388h2v1h-2zM443 388h2v1h-2zM447 388h2v1h-2zM451 388h2v1h-2zM455 388h2v1h-2zM459 388h2v1h-2zM463 388h2v1h-2zM467 388h2v1h-2zM471 388h2v1h-2zM475 388h2v1h-2zM479 388h2v1h-2zM483 388h2v1h-2zM487 388h2v1h-2zM491 388h2v1h-2zM495 388h2v1h-2zM499 388h2v1h-2zM503 388h2v1h-2zM507 388h2v1h-2zM511 388h2v1h-2zM515 388h2v1h-2zM519 388h2v1h-2zM523 388h2v1h-2zM527 388h2v1h-2zM531 388h2v1h-2zM535 388h2v1h-2zM539 388h2v1h-2zM543 388h2v1h-2zM547 388h2v1h-2zM551 388h2v1h-2zM555 388h2v1h-2zM559 388h2v1h-2zM563 388h2v1h-2zM567 388h2v1h-2zM571 388h2v1h-2zM575 388h2v1h-2zM579 388h2v1h-2zM583 388h2v1h-2zM587 388h2v1h-2zM591 388h2v1h-2zM595 388h2v1h-2zM599 388h2v1h-2zM603 388h2v1h-2zM607 388h2v1h-2zM611 388h2v1h-2zM615 388h2v1h-2z" fill="#a0a0a0"/>
<path d="M99 401h2v1h-2zM103 401h2v1h-2zM107 401h2v1h-2zM111 401h2v1h-2zM115 401h2v1h-2zM119 401h2v1h-2zM123 401h2v1h-2zM127 401h2v1h-2zM131 401h2v1h-2zM135 401h2v1h-2zM139 401h2v1h-2zM143 401h2v1h-2zM147 401h2v1h-2zM151 401h2v1h-2zM155 401h2v1h-2zM159 401h2v1h-2zM163 401h2v1h-2zM167 401h2v1h-2zM171 401h2v1h-2zM175 401h2v1h-2zM179 401h2v1h-2zM183 401h2v1h-2zM187 401h2v1h-2zM191 401h2v1h-2zM195 401h2v1h-2zM199 401h2v1h-2zM203 401h2v1h-2zM207 401h2v1h-2zM211 401h2v1h-2zM215 401h2v1h-2zM219 401h2v1h-2zM223 401h2v1h-2zM227 401h2v1h-2zM231 401h2v1h-2zM235 401h2v1h-2zM239 401h2v1h-2zM243 401h2v1h-2zM247 401h2v1h-2zM251 401h2v1h-2zM255 401h2v1h-2zM259 401h2v1h-2zM263 401h2v1h-2zM267 401h2v1h-2zM271 401h2v1h-2zM275 401h2v1h-2zM279 401h2v1h-2zM283 401h2v1h-2zM287 401h2v1h-2zM291 401h2v1h-2zM295 401h2v1h-2zM299 401h2v1h-2zM303 401h2v1h-2zM307 401h2v1h-2zM311 401h2v1h-2zM315 401h2v1h-2zM319 401h2v1h-2zM323 401h2v1h-2zM327 401h2v1h-2zM331 401h2v1h-2zM335 401h2v1h-2zM339 401h2v1h-2zM343 401h2v1h-2zM347 401h2v1h-2zM351 401h2v1h-2zM355 401h2v1h-2zM359 401h2v1h-2zM363 401h2v1h-2zM367 401h2v1h-2zM371 401h2v1h-2zM375 401h2v1h-2zM379 401h2v1h-2zM383 401h2v1h-2zM387 401h2v1h-2zM391 401h2v1h-2zM395 401h2v1h-2zM399 401h2v1h-2zM403 401h2v1h-2zM407 401h2v1h-2zM411 401h2v1h-2zM415 401h2v1h-2zM419 401h2v1h-2zM423 401h2v1h-2zM427 401h2v1h-2zM431 401h2v1h-2zM435 401h2v1h-2zM439 401h2v1h-2zM443 401h2v1h-2zM447 401h2v1h-2zM451 401h2v1h-2zM455 401h2v1h-2zM459 401h2v1h-2zM463 401h2v1h-2zM467 401h2v1h-2zM471 401h2v1h-2zM475 401h2v1h-2zM479 401h2v1h-2zM483 401h2v1h-2zM487 401h2v1h-2zM491 401h2v1h-2zM495 401h2v1h-2zM499 401h2v1h-2zM503 401h2v1h-2zM507 401h2v1h-2zM511 401h2v1h-2zM515 401h2v1h-2zM519 401h2v1h-2zM523 401h2v1h-2zM527 401h2v1h-2zM531 401h2v1h-2zM535 401h2v1h-2zM539 401h2v1h-2zM543 401h2v1h-2zM547 401h2v1h-2zM551 401h2v1h-2zM555 401h2v1h-2zM559 401h2v1h-2zM563 401h2v1h-2zM567 401h2v1h-2zM571 401h2v1h-2zM575 401h2v1h-2zM579 401h2v1h-2zM583 401h2v1h-2zM587 401h2v1h-2zM591 401h2v1h-2zM595 401h2v1h-2zM599 401h2v1h-2zM603 401h2v1h-2zM607 401h2v1h-2zM611 401h2v1h-2zM615 401h2v1h-2z" fill="#a0a0a0"/>
<path d="M99 414h2v1h-2zM103 414h2v1h-2zM107 414h2v1h-2zM111 414h2v1h-2zM115 414h2v1h-2zM119 414h2v1h-2zM123 414h2v1h-2zM127 414h2v1h-2zM131 414h2v1h-2zM135 414h2v1h-2zM139 414h2v1h-2zM143 414h2v1h-2zM147 414h2v1h-2zM151 414h2v1h-2zM155 414h2v1h-2zM159 414h2v1h-2zM163 414h2v1h-2zM167 414h2v1h-2zM171 414h2v1h-2zM175 414h2v1h-2zM179 414h2v1h-2zM183 414h2v1h-2zM187 414h2v1h-2zM191 414h2v1h-2zM195 414h2v1h-2zM199 414h2v1h-2zM203 414h2v1h-2zM207 414h2v1h-2zM211 414h2v1h-2zM215 414h2v1h-2zM219 414h2v1h-2zM223 414h2v1h-2zM227 414h2v1h-2zM231 414h2v1h-2zM235 414h2v1h-2zM239 414h2v1h-2zM243 414h2v1h-2zM247 414h2v1h-2zM251 414h2v1h-2zM255 414h2v1h-2zM259 414h2v1h-2zM263 414h2v1h-2zM267 414h2v1h-2zM271 414h2v1h-2zM275 414h2v1h-2zM279 414h2v1h-2zM283 414h2v1h-2zM287 414h2v1h-2zM291 414h2v1h-2zM295 414h2v1h-2zM299 414h2v1h-2zM303 414h2v1h-2zM307 414h2v1h-2zM311 414h2v1h-2zM315 414h2v1h-2zM319 414h2v1h-2zM323 414h2v1h-2zM327 414h2v1h-2zM331 414h2v1h-2zM335 414h2v1h-2zM339 414h2v1h-2zM343 414h2v1h-2zM347 414h2v1h-2zM351 414h2v1h-2zM355 414h2v1h-2zM359 414h2v1h-2zM363 414h2v1h-2zM367 414h2v1h-2zM371 414h2v1h-2zM375 414h2v1h-2zM379 414h2v1h-2zM383 414h2v1h-2zM387 414h2v1h-2zM391 414h2v1h-2zM395 414h2v1h-2zM399 414h2v1h-2zM403 414h2v1h-2zM407 414h2v1h-2zM411 414h2v1h-2zM415 414h2v1h-2zM419 414h2v1h-2zM423 414h2v1h-2zM427 414h2v1h-2zM431 414h2v1h-2zM435 414h2v1h-2zM439 414h2v1h-2zM443 414h2v1h-2zM447 414h2v1h-2zM451 414h2v1h-2zM455 414h2v1h-2zM459 414h2v1h-2zM463 414h2v1h-2zM467 414h2v1h-2zM471 414h2v1h-2zM475 414h2v1h-2zM479 414h2v1h-2zM483 414h2v1h-2zM487 414h2v1h-2zM491 414h2v1h-2zM495 414h2v1h-2zM499 414h2v1h-2zM503 414h2v1h-2zM507 414h2v1h-2zM511 414h2v1h-2zM515 414h2v1h-2zM519 414h2v1h-2zM523 414h2v1h-2zM527 414h2v1h-2zM531 414h2v1h-2zM535 414h2v1h-2zM539 414h2v1h-2zM543 414h2v1h-2zM547 414h2v1h-2zM551 414h2v1h-2zM555 414h2v1h-2zM559 414h2v1h-2zM563 414h2v1h-2zM567 414h2v1h-2zM571 414h2v1h-2zM575 414h2v1h-2zM579 414h2v1h-2zM583 414h2v1h-2zM587 414h2v1h-2zM591 414h2v1h-2zM595 414h2v1h-2zM599 414h2v1h-2zM603 414h2v1h-2zM607 414h2v1h-2zM611 414h2v1h-2zM615 414h2v1h-2z" fill="#a0a0a0"/>
<path d="M123 335v1h1v-1zM123 338v2h1v-2zM123 342v2h1v-2zM123 346v2h1v-2zM123 350v2h1v-2zM123 354v2h1v-2zM123 358v2h1v-2zM123 362v2h1v-2zM123 366v2h1v-2zM123 370v2h1v-2zM123 374v2h1v-2zM123 378v2h1v-2zM123 382v2h1v-2zM123 386v2h1v-2zM123 390v2h1v-2zM123 394v2h1v-2zM123 398v2h1v-2zM123 402v2h1v-2zM123 406v2h1v-2zM123 410v2h1v-2zM123 414v2h1v-2zM123 418v2h1v-2zM123 422v2h1v-2zM123 426v2h1v-2z" fill="#a0a0a0"/>
<path d="M146 335v1h1v-1zM146 338v2h1v-2zM146 342v2h1v-2zM146 346v2h1v-2zM146 350v2h1v-2zM146 354v2h1v-2zM146 358v2h1v-2zM146 362v2h1v-2zM146 366v2h1v-2zM146 370v2h1v-2zM146 374v2h1v-2zM146 378v2h1v-2zM146 382v2h1v-2zM146 386v2h1v-2zM146 390v2h1v-2zM146 394v2h1v-2zM146 398v2h1v-2zM146 402v2h1v-2zM146 406v2h1v-2zM146 410v2h1v-2zM146 414v2h1v-2zM146 418v2h1v-2zM146 422v2h1v-2zM146 426v2h1v-2z" fill="#a0a0a0"/>
<path d="M170 335v1h1v-1zM170 338v2h1v-2zM170 342v2h1v-2zM170 346v2h1v-2zM170 350v2h1v-2zM170 354v2h1v-2zM170 358v2h1v-2zM170 362v2h1v-2zM170 366v2h1v-2zM170 370v2h1v-2zM170 374v2h1v-2zM170 378v2h1v-2zM170 382v2h1v-2zM170 386v2h1v-2zM170 390v2h1v-2zM170 394v2h1v-2zM170 398v2h1v-2zM170 402v2h1v-2zM170 406v2h1v-2zM170 410v2h1v-2zM170 414v2h1v-2zM170 418v2h1v-2zM170 422v2h1v-2zM170 426v2h1v-2z" fill="#a0a0a0"/>
<path d="M193 335v1h1v-1zM193 338v2h1v-2zM193 342v2h1v-2zM193 346v2h1v-2zM193 350v2h1v-2zM193 354v2h1v-2zM193 358v2h1v-2zM193 362v2h1v-2zM193 366v2h1v-2zM193 370v2h1v-2zM193 374v2h1v-2zM193 378v2h1v-2zM193 382v2h1v-2zM193 386v2h1v-2zM193 390v2h1v-2zM193 394v2h1v-2zM193 398v2h1v-2zM193 402v2h1v-2zM193 406v2h1v-2zM193 410v2h1v-2zM193 414v2h1v-2zM193 418v2h1v-2zM193 422v2h1v-2zM193 426v2h1v-2z" fill="#a0a0a0"/>
<path d="M217 335v1h1v-1zM217 338v2h1v-2zM217 342v2h1v-2zM217 346v2h1v-2zM217 350v2h1v-2zM217 354v2h1v-2zM217 358v2h1v-2zM217 362v2h1v-2zM217 366v2h1v-2zM217 370v2h1v-2zM217 374v2h1v-2zM217 378v2h1v-2zM217 382v2h1v-2zM217 386v2h1v-2zM217 390v2h1v-2zM217 394v2h1v-2zM217 398v2h1v-2zM217 402v2h1v-2zM217 406v2h1v-2zM217 410v2h1v-2zM217 414v2h1v-2zM217 418v2h1v-2zM217 422v2h1v-2zM217 426v2h1v-2z" fill="#a0a0a0"/>
<path d="M240 335v1h1v-1zM240 338v2h1v-2zM240 342v2h1v-2zM240 346v2h1v-2zM240 350v2h1v-2zM240 354v2h1v-2zM240 358v2h1v-2zM240 362v2h1v-2zM240 366v2h1v-2zM240 370v2h1v-2zM240 374v2h1v-2zM240 378v2h1v-2zM240 382v2h1v-2zM240 386v2h1v-2zM240 390v2h1v-2zM240 394v2h1v-2zM240 398v2h1v-2zM240 402v2h1v-2zM240 406v2h1v-2zM240 410v2h1v-2zM240 414v2h1v-2zM240 418v2h1v-2zM240 422v2h1v-2zM240 426v2h1v-2z" fill="#a0a0a0"/>
<path d="M264 335v1h1v-1zM264 338v2h1v-2zM264 342v2h1v-2zM264 346v2h1v-2zM264 350v2h1v-2zM264 354v2h1v-2zM264 358v2h1v-2zM264 362v2h1v-2zM264 366v2h1v-2zM264 370v2h1v-2zM264 374v2h1v-2zM264 378v2h1v-2zM264 382v2h1v-2zM264 386v2h1v-2zM264 390v2h1v-2zM264 394v2h1v-2zM264 398v2h1v-2zM264 402v2h1v-2zM264 406v2h1v-2zM264 410v2h1v-2zM264 414v2h1v-2zM264 418v2h1v-2zM264 422v2h1v-2zM264 426v2h1v-2z" fill="#a0a0a0"/>
<path d="M287 335v1h1v-1zM287 338v2h1v-2zM287 342v2h1v-2zM287 346v2h1v-2zM287 350v2h1v-2zM287 354v2h1v-2zM287 358v2h1v-2zM287 362v2h1v-2zM287 366v2h1v-2zM287 370v2h1v-2zM287 374v2h1v-2zM287 378v2h1v-2zM287 382v2h1v-2zM287 386v2h1v-2zM287 390v2h1v-2zM287 394v2h1v-2zM287 398v2h1v-2zM287 402v2h1v-2zM287 406v2h1v-2zM287 410v2h1v-2zM287 414v2h1v-2zM287 418v2h1v-2zM287 422v2h1v-2zM287 426v2h1v-2z" fill="#a0a0a0"/>
<path d="M311 335v1h1v-1zM311 338v2h1v-2zM311 342v2h1v-2zM311 346v2h1v-2zM311 350v2h1v-2zM311 354v2h1v-2zM311 358v2h1v-2zM311 362v2h1v-2zM311 366v2h1v-2zM311 370v2h1v-2zM311 374v2h1v-2zM311 378v2h1v-2zM311 382v2h1v-2zM311 386v2h1v-2zM311 390v2h1v-2zM311 394v2h1v-2zM311 398v2h1v-2zM311 402v2h1v-2zM311 406v2h1v-2zM311 410v2h1v-2zM311 414v2h1v-2zM311 418v2h1v-2zM311 422v2h1v-2zM311 426v2h1v-2z" fill="#a0a0a0"/>
<path d="M334 335v1h1v-1zM334 338v2h1v-2zM334 342v2h1v-2zM334 346v2h1v-2zM334 350v2h1v-2zM334 354v2h1v-2zM334 358v2h1v-2zM334 362v2h1v-2zM334 366v2h1v-2zM334 370v2h1v-2zM334 374v2h1v-2zM334 378v2h1v-2zM334 382v2h1v-2zM334 386v2h1v-2zM334 390v2h1v-2zM334 394v2h1v-2zM334 398v2h1v-2zM334 402v2h1v-2zM334 406v2h1v-2zM334 410v2h1v-2zM334 414v2h1v-2zM334 418v2h1v-2zM334 422v2h1v-2zM334 426v2h1v-2z" fill="#a0a0a0"/>
<path d="M358 335v1h1v-1zM358 338v2h1v-2zM358 342v2h1v-2zM358 346v2h1v-2zM358 350v2h1v-2zM358 354v2h1v-2zM358 358v2h1v-2zM358 362v2h1v-2zM358 366v2h1v-2zM358 370v2h1v-2zM358 374v2h1v-2zM358 378v2h1v-2zM358 382v2h1v-2zM358 386v2h1v-2zM358 390v2h1v-2zM358 394v2h1v-2zM358 398v2h1v-2zM358 402v2h1v-2zM358 406v2h1v-2zM358 410v2h1v-2zM358 414v2h1v-2zM358 418v2h1v-2zM358 422v2h1v-2zM358 426v2h1v-2z" fill="#a0a0a0"/>
<path d="M382 335v1h1v-1zM382 338v2h1v-2zM382 342v2h1v-2zM382 346v2h1v-2zM382 350v2h1v-2zM382 354v2h1v-2zM382 358v2h1v-2zM382 362v2h1v-2zM382 366v2h1v-2zM382 370v2h1v-2zM382 374v2h1v-2zM382 378v2h1v-2zM382 382v2h1v-2zM382 386v2h1v-2zM382 390v2h1v-2zM382 394v2h1v-2zM382 398v2h1v-2zM382 402v2h1v-2zM382 406v2h1v-2zM382 410v2h1v-2zM382 414v2h1v-2zM382 418v2h1v-2zM382 422v2h1v-2zM382 426v2h1v-2z" fill="#a0a0a0"/>
<path d="M405 335v1h1v-1zM405 338v2h1v-2zM405 342v2h1v-2zM405 346v2h1v-2zM405 350v2h1v-2zM405 354v2h1v-2zM405 358v2h1v-2zM405 362v2h1v-2zM405 366v2h1v-2zM405 370v2h1v-2zM405 374v2h1v-2zM405 378v2h1v-2zM405 382v2h1v-2zM405 386v2h1v-2zM405 390v2h1v-2zM405 394v2h1v-2zM405 398v2h1v-2zM405 402v2h1v-2zM405 406v2h1v-2zM405 410v2h1v-2zM405 414v2h1v-2zM405 418v2h1v-2zM405 422v2h1v-2zM405 426v2h1v-2z" fill="#a0a0a0"/>
<path d="M429 335v1h1v-1zM429 338v2h1v-2zM429 342v2h1v-2zM429 346v2h1v-2zM429 350v2h1v-2zM429 354v2h1v-2zM429 358v2h1v-2zM429 362v2h1v-2zM429 366v2h1v-2zM429 370v2h1v-2zM429 374v2h1v-2zM429 378v2h1v-2zM429 382v2h1v-2zM429 386v2h1v-2zM429 390v2h1v-2zM429 394v2h1v-2zM429 398v2h1v-2zM429 402v2h1v-2zM429 406v2h1v-2zM429 410v2h1v-2zM429 414v2h1v-2zM429 418v2h1v-2zM429 422v2h1v-2zM429 426v2h1v-2z" fill="#a0a0a0"/>
<path d="M452 335v1h1v-1zM452 338v2h1v-2zM452 342v2h1v-2zM452 346v2h1v-2zM452 350v2h1v-2zM452 354v2h1v-2zM452 358v2h1v-2zM452 362v2h1v-2zM452 366v2h1v-2zM452 370v2h1v-2zM452 374v2h1v-2zM452 378v2h1v-2zM452 382v2h1v-2zM452 386v2h1v-2zM452 390v2h1v-2zM452 394v2h1v-2zM452 398v2h1v-2zM452 402v2h1v-2zM452 406v2h1v-2zM452 410v2h1v-2zM452 414v2h1v-2zM452 418v2h1v-2zM452 422v2h1v-2zM452 426v2h1v-2z" fill="#a0a0a0"/>
<path d="M476 335v1h1v-1zM476 338v2h1v-2zM476 342v2h1v-2zM476 346v2h1v-2zM476 350v2h1v-2zM476 354v2h1v-2zM476 358v2h1v-2zM476 362v2h1v-2zM476 366v2h1v-2zM476 370v2h1v-2zM476 374v2h1v-2zM476 378v2h1v-2zM476 382v2h1v-2zM476 386v2h1v-2zM476 390v2h1v-2zM476 394v2h1v-2zM476 398v2h1v-2zM476 402v2h1v-2zM476 406v2h1v-2zM476 410v2h1v-2zM476 414v2h1v-2zM476 418v2h1v-2zM476 422v2h1v-2zM476 426v2h1v-2z" fill="#a0a0a0"/>
<path d="M499 335v1h1v-1zM499 338v2h1v-2zM499 342v2h1v-2zM499 346v2h1v-2zM499 350v2h1v-2zM499 354v2h1v-2zM499 358v2h1v-2zM499 362v2h1v-2zM499 366v2h1v-2zM499 370v2h1v-2zM499 374v2h1v-2zM499 378v2h1v-2zM499 382v2h1v-2zM499 386v2h1v-2zM499 390v2h1v-2zM499 394v2h1v-2zM499 398v2h1v-2zM499 402v2h1v-2zM499 406v2h1v-2zM499 410v2h1v-2zM499 414v2h1v-2zM499 418v2h1v-2zM499 422v2h1v-2zM499 426v2h1v-2z" fill="#a0a0a0"/>
<path d="M523 335v1h1v-1zM523 338v2h1v-2zM523 342v2h1v-2zM523 346v2h1v-2zM523 350v2h1v-2zM523 354v2h1v-2zM523 358v2h1v-2zM523 362v2h1v-2zM523 366v2h1v-2zM523 370v2h1v-2zM523 374v2h1v-2zM523 378v2h1v-2zM523 382v2h1v-2zM523 386v2h1v-2zM523 390v2h1v-2zM523 394v2h1v-2zM523 398v2h1v-2zM523 402v2h1v-2zM523 406v2h1v-2zM523 410v2h1v-2zM523 414v2h1v-2zM523 418v2h1v-2zM523 422v2h1v-2zM523 426v2h1v-2z" fill="#a0a0a0"/>
<path d="M546 335v1h1v-1zM546 338v2h1v-2zM546 342v2h1v-2zM546 346v2h1v-2zM546 350v2h1v-2zM546 354v2h1v-2zM546 358v2h1v-2zM546 362v2h1v-2zM546 366v2h1v-2zM546 370v2h1v-2zM546 374v2h1v-2zM546 378v2h1v-2zM546 382v2h1v-2zM546 386v2h1v-2zM546 390v2h1v-2zM546 394v2h1v-2zM546 398v2h1v-2zM546 402v2h1v-2zM546 406v2h1v-2zM546 410v2h1v-2zM546 414v2h1v-2zM546 418v2h1v-2zM546 422v2h1v-2zM546 426v2h1v-2z" fill="#a0a0a0"/>
<path d="M570 335v1h1v-1zM570 338v2h1v-2zM570 342v2h1v-2zM570 346v2h1v-2zM570 350v2h1v-2zM570 354v2h1v-2zM570 358v2h1v-2zM570 362v2h1v-2zM570 366v2h1v-2zM570 370v2h1v-2zM570 374v2h1v-2zM570 378v2h1v-2zM570 382v2h1v-2zM570 386v2h1v-2zM570 390v2h1v-2zM570 394v2h1v-2zM570 398v2h1v-2zM570 402v2h1v-2zM570 406v2h1v-2zM570 410v2h1v-2zM570 414v2h1v-2zM570 418v2h1v-2zM570 422v2h1v-2zM570 426v2h1v-2z" fill="#a0a0a0"/>
<path d="M593 335v1h1v-1zM593 338v2h1v-2zM593 342v2h1v-2zM593 346v2h1v-2zM593 350v2h1v-2zM593 354v2h1v-2zM593 358v2h1v-2zM593 362v2h1v-2zM593 366v2h1v-2zM593 370v2h1v-2zM593 374v2h1v-2zM593 378v2h1v-2zM593 382v2h1v-2zM593 386v2h1v-2zM593 390v2h1v-2zM593 394v2h1v-2zM593 398v2h1v-2zM593 402v2h1v-2zM593 406v2h1v-2zM593 410v2h1v-2zM593 414v2h1v-2zM593 418v2h1v-2zM593 422v2h1v-2zM593 426v2h1v-2z" fill="#a0a0a0"/>
<rect x="100" y="237" width="8" height="5" fill="#ff0000"/>
<rect x="193" y="211" width="1" height="5" fill="#00ff00"/>
<rect x="185" y="216" width="17" height="28" fill="#00ff00"/>
<rect x="217" y="181" width="1" height="16" fill="#00ff00"/>
<rect x="209" y="197" width="17" height="15" fill="#00ff00"/>
<rect x="240" y="166" width="1" height="37" fill="#ff0000"/>
<rect x="232" y="175" width="17" height="26" fill="#ff0000"/>
<rect x="264" y="186" width="1" height="9" fill="#00ff00"/>
<rect x="256" y="195" width="17" height="1" fill="#00ff00"/>
<rect x="256" y="196" width="16" height="1" fill="#00ff00"/>
<rect x="288" y="177" width="1" height="9" fill="#00ff00"/>
<rect x="279" y="186" width="19" height="10" fill="#00ff00"/>
<rect x="358" y="183" width="1" height="20" fill="#00ff00"/>
<rect x="350" y="200" width="17" height="1" fill="#00ff00"/>
<rect x="350" y="201" width="16" height="1" fill="#00ff00"/>
<rect x="382" y="182" width="1" height="18" fill="#00ff00"/>
<rect x="373" y="200" width="19" height="1" fill="#00ff00"/>
<rect x="373" y="201" width="18" height="1" fill="#00ff00"/>
<rect x="405" y="183" width="1" height="18" fill="#00ff00"/>
<rect x="397" y="186" width="17" height="1" fill="#00ff00"/>
<rect x="397" y="187" width="16" height="1" fill="#00ff00"/>
<rect x="420" y="170" width="19" height="6" fill="#00ff00"/>
<rect x="452" y="165" width="1" height="30" fill="#00ff00"/>
<rect x="444" y="170" width="17" height="17" fill="#00ff00"/>
<rect x="523" y="157" width="1" height="26" fill="#00ff00"/>
<rect x="515" y="159" width="17" height="8" fill="#00ff00"/>
<rect x="547" y="164" width="1" height="9" fill="#ff0000"/>
<rect x="538" y="157" width="19" height="7" fill="#ff0000"/>
<rect x="570" y="161" width="1" height="33" fill="#ff0000"/>
<rect x="562" y="166" width="17" height="12" fill="#ff0000"/>
<rect x="594" y="157" width="1" height="32" fill="#00ff00"/>
<rect x="585" y="170" width="19" height="4" fill="#00ff00"/>
<rect x="99" y="51" width="519" height="1" fill="#7fa8d6"/>
<rect x="99" y="335" width="519" height="1" fill="#7fa8d6"/>
<rect x="99" y="427" width="519" height="1" fill="#7fa8d6"/>
<rect x="99" y="51" width="1" height="377" fill="#7fa8d6"/>
<rect x="617" y="51" width="1" height="377" fill="#7fa8d6"/>
<rect x="99" y="69" width="5" height="1" fill="#7fa8d6"/>
<rect x="613" y="69" width="5" height="1" fill="#7fa8d6"/>
<rect x="99" y="122" width="5" height="1" fill="#7fa8d6"/>
<rect x="613" y="122" width="5" height="1" fill="#7fa8d6"/>
<rect x="99" y="175" width="5" height="1" fill="#7fa8d6"/>
<rect x="613" y="175" width="5" height="1" fill="#7fa8d6"/>
<rect x="99" y="229" width="5" height="1" fill="#7fa8d6"/>
<rect x="613" y="229" width="5" height="1" fill="#7fa8d6"/>
<rect x="99" y="282" width="5" height="1" fill="#7fa8d6"/>
<rect x="613" y="282" width="5" height="1" fill="#7fa8d6"/>
<rect x="99" y="348" width="5" height="1" fill="#7fa8d6"/>
<rect x="613" y="348" width="5" height="1" fill="#7fa8d6"/>
<rect x="99" y="361" width="5" height="1" fill="#7fa8d6"/>
<rect x="613" y="361" width="5" height="1" fill="#7fa8d6"/>
<rect x="99" y="374" width="5" height="1" fill="#7fa8d6"/>
<rect x="613" y="374" width="5" height="1" fill="#7fa8d6"/>
<rect x="99" y="388" width="5" height="1" fill="#7fa8d6"/>
<rect x="613" y="388" width="5" height="1" fill="#7fa8d6"/>
<rect x="99" y="401" width="5" height="1" fill="#7fa8d6"/>
<rect x="613" y="401" width="5" height="1" fill="#7fa8d6"/>
<rect x="99" y="414" width="5" height="1" fill="#7fa8d6"/>
<rect x="613" y="414" width="5" height="1" fill="#7fa8d6"/>
<rect x="111" y="51" width="1" height="3" fill="#7fa8d6"/>
<rect x="111" y="333" width="1" height="2" fill="#7fa8d6"/>
<rect x="123" y="51" width="1" height="5" fill="#7fa8d6"/>
<rect x="123" y="331" width="1" height="4" fill="#7fa8d6"/>
<rect x="134" y="51" width="1" height="3" fill="#7fa8d6"/>
<rect x="134" y="333" width="1" height="2" fill="#7fa8d6"/>
<rect x="146" y="51" width="1" height="3" fill="#7fa8d6"/>
<rect x="146" y="333" width="1" height="2" fill="#7fa8d6"/>
<rect x="158" y="51" width="1" height="3" fill="#7fa8d6"/>
<rect x="158" y="333" width="1" height="2" fill="#7fa8d6"/>
<rect x="170" y="51" width="1" height="5" fill="#7fa8d6"/>
<rect x="170" y="331" width="1" height="4" fill="#7fa8d6"/>
<rect x="181" y="51" width="1" height="3" fill="#7fa8d6"/>
<rect x="181" y="333" width="1" height="2" fill="#7fa8d6"/>
<rect x="193" y="51" width="1" height="3" fill="#7fa8d6"/>
<rect x="193" y="333" width="1" height="2" fill="#7fa8d6"/>
<rect x="205" y="51" width="1" height="3" fill="#7fa8d6"/>
<rect x="205" y="333" width="1" height="2" fill="#7fa8d6"/>
<rect x="217" y="51" width="1" height="5" fill="#7fa8d6"/>
<rect x="217" y="331" width="1" height="4" fill="#7fa8d6"/>
<rect x="229" y="51" width="1" height="3" fill="#7fa8d6"/>
<rect x="229" y="333" width="1" height="2" fill="#7fa8d6"/>
<rect x="240" y="51" width="1" height="3" fill="#7fa8d6"/>
<rect x="240" y="333" width="1" height="2" fill="#7fa8d6"/>
<rect x="252" y="51" width="1" height="3" fill="#7fa8d6"/>
<rect x="252" y="333" width="1" height="2" fill="#7fa8d6"/>
<rect x="264" y="51" width="1" height="5" fill="#7fa8d6"/>
<rect x="264" y="331" width="1" height="4" fill="#7fa8d6"/>
<rect x="276" y="51" width="1" height="3" fill="#7fa8d6"/>
<rect x="276" y="333" width="1" height="2" fill="#7fa8d6"/>
<rect x="287" y="51" width="1" height="3" fill="#7fa8d6"/>
<rect x="287" y="333" width="1" height="2" fill="#7fa8d6"/>
<rect x="299" y="51" width="1" height="3" fill="#7fa8d6"/>
<rect x="299" y="333" width="1" height="2" fill="#7fa8d6"/>
<rect x="311" y="51" width="1" height="5" fill="#7fa8d6"/>
<rect x="311" y="331" width="1" height="4" fill="#7fa8d6"/>
<rect x="323" y="51" width="1" height="3" fill="#7fa8d6"/>
<rect x="323" y="333" width="1" height="2" fill="#7fa8d6"/>
<rect x="334" y="51" width="1" height="3" fill="#7fa8d6"/>
<rect x="334" y="333" width="1" height="2" fill="#7fa8d6"/>
<rect x="346" y="51" width="1" height="3" fill="#7fa8d6"/>
<rect x="346" y="333" width="1" height="2" fill="#7fa8d6"/>
<rect x="358" y="51" width="1" height="5" fill="#7fa8d6"/>
<rect x="358" y="331" width="1" height="4" fill="#7fa8d6"/>
<rect x="370" y="51" width="1" height="3" fill="#7fa8d6"/>
<rect x="370" y="333" width="1" height="2" fill="#7fa8d6"/>
<rect x="382" y="51" width="1" height="3" fill="#7fa8d6"/>
<rect x="382" y="333" width="1" height="2" fill="#7fa8d6"/>
<rect x="393" y="51" width="1" height="3" fill="#7fa8d6"/>
<rect x="393" y="333" width="1" height="2" fill="#7fa8d6"/>
<rect x="405" y="51" width="1" height="5" fill="#7fa8d6"/>
<rect x="405" y="331" width="1" height="4" fill="#7fa8d6"/>
<rect x="417" y="51" width="1" height="3" fill="#7fa8d6"/>
<rect x="417" y="333" width="1" height="2" fill="#7fa8d6"/>
<rect x="429" y="51" width="1" height="3" fill="#7fa8d6"/>
<rect x="429" y="333" width="1" height="2" fill="#7fa8d6"/>
<rect x="440" y="51" width="1" height="3" fill="#7fa8d6"/>
<rect x="440" y="333" width="1" height="2" fill="#7fa8d6"/>
<rect x="452" y="51" width="1" height="5" fill="#7fa8d6"/>
<rect x="452" y="331" width="1" height="4" fill="#7fa8d6"/>
<rect x="464" y="51" width="1" height="3" fill="#7fa8d6"/>
<rect x="464" y="333" width="1" height="2" fill="#7fa8d6"/>
<rect x="476" y="51" width="1" height="3" fill="#7fa8d6"/>
<rect x="476" y="333" width="1" height="2" fill="#7fa8d6"/>
<rect x="488" y="51" width="1" height="3" fill="#7fa8d6"/>
<rect x="488" y="333" width="1" height="2" fill="#7fa8d6"/>
<rect x="499" y="51" width="1" height="5" fill="#7fa8d6"/>
<rect x="499" y="331" width="1" height="4" fill="#7fa8d6"/>
<rect x="511" y="51" width="1" height="3" fill="#7fa8d6"/>
<rect x="511" y="333" width="1" height="2" fill="#7fa8d6"/>
<rect x="523" y="51" width="1" height="3" fill="#7fa8d6"/>
<rect x="523" y="333" width="1" height="2" fill="#7fa8d6"/>
<rect x="535" y="51" width="1" height="3" fill="#7fa8d6"/>
<rect x="535" y="333" width="1" height="2" fill="#7fa8d6"/>
<rect x="546" y="51" width="1" height="5" fill="#7fa8d6"/>
<rect x="546" y="331" width="1" height="4" fill="#7fa8d6"/>
<rect x="558" y="51" width="1" height="3" fill="#7fa8d6"/>
<rect x="558" y="333" width="1" height="2" fill="#7fa8d6"/>
<rect x="570" y="51" width="1" height="3" fill="#7fa8d6"/>
<rect x="570" y="333" width="1" height="2" fill="#7fa8d6"/>
<rect x="582" y="51" width="1" height="3" fill="#7fa8d6"/>
<rect x="582" y="333" width="1" height="2" fill="#7fa8d6"/>
<rect x="593" y="51" width="1" height="5" fill="#7fa8d6"/>
<rect x="593" y="331" width="1" height="4" fill="#7fa8d6"/>
<rect x="605" y="51" width="1" height="3" fill="#7fa8d6"/>
<rect x="605" y="333" width="1" height="2" fill="#7fa8d6"/>
<rect x="105" y="425" width="1" height="2" fill="#7fa8d6"/>
<rect x="111" y="425" width="1" height="2" fill="#7fa8d6"/>
<rect x="117" y="425" width="1" height="2" fill="#7fa8d6"/>
<rect x="123" y="423" width="1" height="4" fill="#7fa8d6"/>
<rect x="128" y="425" width="1" height="2" fill="#7fa8d6"/>
<rect x="134" y="425" width="1" height="2" fill="#7fa8d6"/>
<rect x="140" y="425" width="1" height="2" fill="#7fa8d6"/>
<rect x="146" y="423" width="1" height="4" fill="#7fa8d6"/>
<rect x="152" y="425" width="1" height="2" fill="#7fa8d6"/>
<rect x="158" y="425" width="1" height="2" fill="#7fa8d6"/>
<rect x="164" y="425" width="1" height="2" fill="#7fa8d6"/>
<rect x="170" y="423" width="1" height="4" fill="#7fa8d6"/>
<rect x="176" y="425" width="1" height="2" fill="#7fa8d6"/>
<rect x="181" y="425" width="1" height="2" fill="#7fa8d6"/>
<rect x="187" y="425" width="1" height="2" fill="#7fa8d6"/>
<rect x="193" y="423" width="1" height="4" fill="#7fa8d6"/>
<rect x="199" y="425" width="1" height="2" fill="#7fa8d6"/>
<rect x="205" y="425" width="1" height="2" fill="#7fa8d6"/>
<rect x="211" y="425" width="1" height="2" fill="#7fa8d6"/>
<rect x="217" y="423" width="1" height="4" fill="#7fa8d6"/>
<rect x="223" y="425" width="1" height="2" fill="#7fa8d6"/>
<rect x="229" y="425" width="1" height="2" fill="#7fa8d6"/>
<rect x="234" y="425" width="1" height="2" fill="#7fa8d6"/>
<rect x="240" y="423" width="1" height="4" fill="#7fa8d6"/>
<rect x="246" y="425" width="1" height="2" fill="#7fa8d6"/>
<rect x="252" y="425" width="1" height="2" fill="#7fa8d6"/>
<rect x="258" y="425" width="1" height="2" fill="#7fa8d6"/>
<rect x="264" y="423" width="1" height="4" fill="#7fa8d6"/>
<rect x="270" y="425" width="1" height="2" fill="#7fa8d6"/>
<rect x="276" y="425" width="1" height="2" fill="#7fa8d6"/>
<rect x="281" y="425" width="1" height="2" fill="#7fa8d6"/>
<rect x="287" y="423" width="1" height="4" fill="#7fa8d6"/>
<rect x="293" y="425" width="1" height="2" fill="#7fa8d6"/>
<rect x="299" y="425" width="1" height="2" fill="#7fa8d6"/>
<rect x="305" y="425" width="1" height="2" fill="#7fa8d6"/>
<rect x="311" y="423" width="1" height="4" fill="#7fa8d6"/>
<rect x="317" y="425" width="1" height="2" fill="#7fa8d6"/>
<rect x="323" y="425" width="1" height="2" fill="#7fa8d6"/>
<rect x="329" y="425" width="1" height="2" fill="#7fa8d6"/>
<rect x="334" y="423" width="1" height="4" fill="#7fa8d6"/>
<rect x="340" y="425" width="1" height="2" fill="#7fa8d6"/>
<rect x="346" y="425" width="1" height="2" fill="#7fa8d6"/>
<rect x="352" y="425" width="1" height="2" fill="#7fa8d6"/>
<rect x="358" y="423" width="1" height="4" fill="#7fa8d6"/>
<rect x="364" y="425" width="1" height="2" fill="#7fa8d6"/>
<rect x="370" y="425" width="1" height="2" fill="#7fa8d6"/>
<rect x="376" y="425" width="1" height="2" fill="#7fa8d6"/>
<rect x="382" y="423" width="1" height="4" fill="#7fa8d6"/>
<rect x="387" y="425" width="1" height="2" fill="#7fa8d6"/>
<rect x="393" y="425" width="1" height="2" fill="#7fa8d6"/>
<rect x="399" y="425" width="1" height="2" fill="#7fa8d6"/>
<rect x="405" y="423" width="1" height="4" fill="#7fa8d6"/>
<rect x="411" y="425" width="1" height="2" fill="#7fa8d6"/>
<rect x="417" y="425" width="1" height="2" fill="#7fa8d6"/>
<rect x="423" y="425" width="1" height="2" fill="#7fa8d6"/>
<rect x="429" y="423" width="1" height="4" fill="#7fa8d6"/>
<rect x="435" y="425" width="1" height="2" fill="#7fa8d6"/>
<rect x="440" y="425" width="1" height="2" fill="#7fa8d6"/>
<rect x="446" y="425" width="1" height="2" fill="#7fa8d6"/>
<rect x="452" y="423" width="1" height="4" fill="#7fa8d6"/>
<rect x="458" y="425" width="1" height="2" fill="#7fa8d6"/>
<rect x="464" y="425" width="1" height="2" fill="#7fa8d6"/>
<rect x="470" y="425" width="1" height="2" fill="#7fa8d6"/>
<rect x="476" y="423" width="1" height="4" fill="#7fa8d6"/>
<rect x="482" y="425" width="1" height="2" fill="#7fa8d6"/>
<rect x="488" y="425" width="1" height="2" fill="#7fa8d6"/>
<rect x="493" y="425" width="1" height="2" fill="#7fa8d6"/>
<rect x="499" y="423" width="1" height="4" fill="#7fa8d6"/>
<rect x="505" y="425" width="1" height="2" fill="#7fa8d6"/>
<rect x="511" y="425" width="1" height="2" fill="#7fa8d6"/>
<rect x="517" y="425" width="1" height="2" fill="#7fa8d6"/>
<rect x="523" y="423" width="1" height="4" fill="#7fa8d6"/>
<rect x="529" y="425" width="1" height="2" fill="#7fa8d6"/>
<rect x="535" y="425" width="1" height="2" fill="#7fa8d6"/>
<rect x="540" y="425" width="1" height="2" fill="#7fa8d6"/>
<rect x="546" y="423" width="1" height="4" fill="#7fa8d6"/>
<rect x="552" y="425" width="1" height="2" fill="#7fa8d6"/>
<rect x="558" y="425" width="1" height="2" fill="#7fa8d6"/>
<rect x="564" y="425" width="1" height="2" fill="#7fa8d6"/>
<rect x="570" y="423" width="1" height="4" fill="#7fa8d6"/>
<rect x="576" y="425" width="1" height="2" fill="#7fa8d6"/>
<rect x="582" y="425" width="1" height="2" fill="#7fa8d6"/>
<rect x="588" y="425" width="1" height="2" fill="#7fa8d6"/>
<rect x="593" y="423" width="1" height="4" fill="#7fa8d6"/>
<rect x="599" y="425" width="1" height="2" fill="#7fa8d6"/>
<rect x="605" y="425" width="1" height="2" fill="#7fa8d6"/>
<rect x="611" y="425" width="1" height="2" fill="#7fa8d6"/>
<rect x="193" y="423" width="1" height="4" fill="#00ff00"/>
<rect x="217" y="422" width="1" height="5" fill="#00ff00"/>
<rect x="240" y="415" width="1" height="12" fill="#ff0000"/>
<rect x="264" y="426" width="1" height="1" fill="#00ff00"/>
<rect x="287" y="426" width="1" height="1" fill="#00ff00"/>
<rect x="358" y="418" width="1" height="9" fill="#00ff00"/>
<rect x="382" y="424" width="1" height="3" fill="#00ff00"/>
<rect x="405" y="426" width="1" height="1" fill="#00ff00"/>
<rect x="429" y="426" width="1" height="1" fill="#00ff00"/>
<rect x="452" y="416" width="1" height="11" fill="#00ff00"/>
<rect x="523" y="423" width="1" height="4" fill="#00ff00"/>
<rect x="546" y="422" width="1" height="5" fill="#ff0000"/>
<rect x="570" y="337" width="1" height="90" fill="#ff0000"/>
<rect x="593" y="390" width="1" height="37" fill="#00ff00"/>
</g>
<g opacity="0.996" stroke="#101f30" stroke-width="0.2">
<text transform="translate(272.78 29.8) scale(1.29 1)" font-size="17.1" fill="#ffff00" stroke="none">-</text>
<text transform="translate(222.01 31) scale(0.92 1)" font-size="17.1" fill="#ffff00" stroke="none">OPHC</text>
<text transform="translate(285.81 31) scale(1.05 1)" font-size="17.1" fill="#ffff00" stroke="none">last</text>
<text transform="translate(320.01 31) scale(1.06 1)" font-size="17.1" fill="#ffff00" stroke="none">updated</text>
<text transform="translate(391.77 31) scale(1.06 1)" font-size="17.1" fill="#ffff00" stroke="none" letter-spacing="-0.11">23</text>
<text transform="translate(420.14 31) scale(1.06 1)" font-size="17.1" fill="#ffff00" stroke="none" letter-spacing="-0.23">04</text>
<text transform="translate(447.27 31) scale(1.06 1)" font-size="17.1" fill="#ffff00" stroke="none" letter-spacing="0.2">2026</text>
<text transform="translate(411.42 32.95) skewX(-7.96) scale(1.23)" font-size="17.1" fill="#ffff00" stroke="none">/</text>
<text transform="translate(439.77 32.95) skewX(-7.78) scale(1.23)" font-size="17.1" fill="#ffff00" stroke="none">/</text>
<text transform="translate(76.49 74) scale(1.16 1)" font-size="17.1" fill="#7fa8d6">6</text>
<text transform="translate(61 127) scale(1.06 1)" font-size="17.1" fill="#7fa8d6" letter-spacing="0.64">5.7</text>
<text transform="translate(61 180) scale(1.06 1)" font-size="17.1" fill="#7fa8d6" letter-spacing="0.45">5.4</text>
<text transform="translate(61 234) scale(1.06 1)" font-size="17.1" fill="#7fa8d6" letter-spacing="0.64">5.1</text>
<text transform="translate(61.4 287) scale(1.06 1)" font-size="17.1" fill="#7fa8d6" letter-spacing="0.39">4.8</text>
<text transform="translate(67.09 339.6) scale(1.06 1)" font-size="17.1" fill="#7fa8d6" letter-spacing="1.01">35</text>
<text transform="translate(67.09 352.6) scale(1.06 1)" font-size="17.1" fill="#7fa8d6" letter-spacing="0.88">30</text>
<text transform="translate(66.82 365.6) scale(1.06 1)" font-size="17.1" fill="#7fa8d6" letter-spacing="1.26">25</text>
<text transform="translate(66.82 378.6) scale(1.06 1)" font-size="17.1" fill="#7fa8d6" letter-spacing="1.13">20</text>
<text transform="translate(66.42 392.6) scale(1.06 1)" font-size="17.1" fill="#7fa8d6" letter-spacing="1.63">15</text>
<text transform="translate(66.42 405.6) scale(1.06 1)" font-size="17.1" fill="#7fa8d6" letter-spacing="1.51">10</text>
<text transform="translate(76.99 418.6) scale(1.08 1)" font-size="17.1" fill="#7fa8d6">5</text>
<text transform="translate(77.15 431.6) scale(1.04 1)" font-size="17.1" fill="#7fa8d6">0</text>
<text transform="translate(42 212.19) rotate(-90) scale(1.01 1)" font-size="17.1" fill="#7fa8d6">Price</text>
<text transform="translate(53 441.83) rotate(-90) scale(1.07 1)" font-size="17.1" fill="#7fa8d6">Volume</text>
<text transform="translate(53 375.91) rotate(-90) scale(1.11 1)" font-size="17.1" fill="#7fa8d6">(0000)</text>
<text transform="translate(331.6 472) scale(1.02 1)" font-size="17.1" fill="#000000">Day</text>
<text transform="translate(101.9 441.5) rotate(-45) scale(1.06 1) translate(-19.02 0)" font-size="17.1" fill="#7fa8d6" letter-spacing="0.9">02</text>
<text transform="translate(125.9 441.5) rotate(-45) scale(1.06 1) translate(-19.15 0)" font-size="17.1" fill="#7fa8d6" letter-spacing="0.9">03</text>
<text transform="translate(148.9 441.5) rotate(-45) scale(1.06 1) translate(-19.4 0)" font-size="17.1" fill="#7fa8d6" letter-spacing="0.9">04</text>
<text transform="translate(172.9 441.5) rotate(-45) scale(1.06 1) translate(-19.15 0)" font-size="17.1" fill="#7fa8d6" letter-spacing="0.9">05</text>
<text transform="translate(195.9 441.5) rotate(-45) scale(1.06 1) translate(-19.15 0)" font-size="17.1" fill="#7fa8d6" letter-spacing="0.9">06</text>
<text transform="translate(219.9 441.5) rotate(-45) scale(1.06 1) translate(-19.02 0)" font-size="17.1" fill="#7fa8d6" letter-spacing="0.9">07</text>
<text transform="translate(242.9 441.5) rotate(-45) scale(1.06 1) translate(-19.15 0)" font-size="17.1" fill="#7fa8d6" letter-spacing="0.9">08</text>
<text transform="translate(266.9 441.5) rotate(-45) scale(1.06 1) translate(-19.15 0)" font-size="17.1" fill="#7fa8d6" letter-spacing="0.9">09</text>
<text transform="translate(289.9 441.5) rotate(-45) scale(1.06 1) translate(-19.27 0)" font-size="17.1" fill="#7fa8d6" letter-spacing="0.9">10</text>
<text transform="translate(313.9 441.5) rotate(-45) scale(1.06 1) translate(-17.77 0)" font-size="17.1" fill="#7fa8d6" letter-spacing="0.9">11</text>
<text transform="translate(336.9 441.5) rotate(-45) scale(1.06 1) translate(-19.02 0)" font-size="17.1" fill="#7fa8d6" letter-spacing="0.9">12</text>
<text transform="translate(360.9 441.5) rotate(-45) scale(1.06 1) translate(-19.15 0)" font-size="17.1" fill="#7fa8d6" letter-spacing="0.9">13</text>
<text transform="translate(384.9 441.5) rotate(-45) scale(1.06 1) translate(-19.4 0)" font-size="17.1" fill="#7fa8d6" letter-spacing="0.9">14</text>
<text transform="translate(407.9 441.5) rotate(-45) scale(1.06 1) translate(-19.15 0)" font-size="17.1" fill="#7fa8d6" letter-spacing="0.9">15</text>
<text transform="translate(431.9 441.5) rotate(-45) scale(1.06 1) translate(-19.15 0)" font-size="17.1" fill="#7fa8d6" letter-spacing="0.9">16</text>
<text transform="translate(454.9 441.5) rotate(-45) scale(1.06 1) translate(-19.02 0)" font-size="17.1" fill="#7fa8d6" letter-spacing="0.9">17</text>
<text transform="translate(478.9 441.5) rotate(-45) scale(1.06 1) translate(-19.15 0)" font-size="17.1" fill="#7fa8d6" letter-spacing="0.9">18</text>
<text transform="translate(501.9 441.5) rotate(-45) scale(1.06 1) translate(-19.15 0)" font-size="17.1" fill="#7fa8d6" letter-spacing="0.9">19</text>
<text transform="translate(525.9 441.5) rotate(-45) scale(1.06 1) translate(-19.27 0)" font-size="17.1" fill="#7fa8d6" letter-spacing="0.9">20</text>
<text transform="translate(548.9 441.5) rotate(-45) scale(1.06 1) translate(-19.02 0)" font-size="17.1" fill="#7fa8d6" letter-spacing="0.9">21</text>
<text transform="translate(572.9 441.5) rotate(-45) scale(1.06 1) translate(-19.02 0)" font-size="17.1" fill="#7fa8d6" letter-spacing="0.9">22</text>
<text transform="translate(595.9 441.5) rotate(-45) scale(1.06 1) translate(-19.15 0)" font-size="17.1" fill="#7fa8d6" letter-spacing="0.9">23</text>
<text transform="translate(619.9 441.5) rotate(-45) scale(1.06 1) translate(-19.4 0)" font-size="17.1" fill="#7fa8d6" letter-spacing="0.9">24</text>
</g>
</svg>
</body>
</html>
